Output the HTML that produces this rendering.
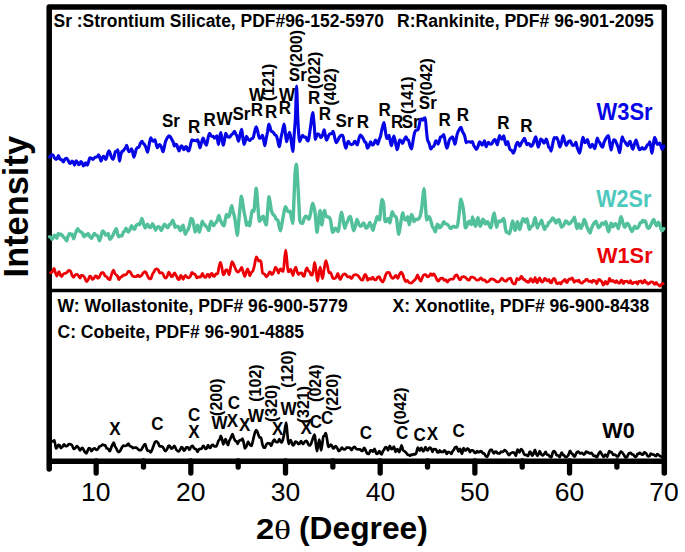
<!DOCTYPE html><html><head><meta charset="utf-8"><style>html,body{margin:0;padding:0;background:#fff;overflow:hidden;width:685px;height:552px;}svg{display:block;}</style></head><body>
<svg width="685" height="552" viewBox="0 0 685 552">
<rect width="685" height="552" fill="#fff"/>
<g stroke="#000" fill="none">
<path d="M49.2,469 L49.2,7.1 L664.3,7.1 L664.3,473" stroke-width="5.5" stroke-linejoin="round" stroke-linecap="round"/>
<line x1="49.2" y1="461.3" x2="664.3" y2="461.3" stroke-width="5.4"/>
<line x1="49.2" y1="290.5" x2="664.3" y2="290.5" stroke-width="3.6"/>
<line x1="96.15" y1="461" x2="96.15" y2="473" stroke-width="5.3" stroke-linecap="round"/>
<line x1="190.83" y1="461" x2="190.83" y2="473" stroke-width="5.3" stroke-linecap="round"/>
<line x1="285.51" y1="461" x2="285.51" y2="473" stroke-width="5.3" stroke-linecap="round"/>
<line x1="380.19" y1="461" x2="380.19" y2="473" stroke-width="5.3" stroke-linecap="round"/>
<line x1="474.87" y1="461" x2="474.87" y2="473" stroke-width="5.3" stroke-linecap="round"/>
<line x1="569.55" y1="461" x2="569.55" y2="473" stroke-width="5.3" stroke-linecap="round"/>
<line x1="143.49" y1="461" x2="143.49" y2="467" stroke-width="5.3" stroke-linecap="round"/>
<line x1="238.17" y1="461" x2="238.17" y2="467" stroke-width="5.3" stroke-linecap="round"/>
<line x1="332.85" y1="461" x2="332.85" y2="467" stroke-width="5.3" stroke-linecap="round"/>
<line x1="427.53" y1="461" x2="427.53" y2="467" stroke-width="5.3" stroke-linecap="round"/>
<line x1="522.21" y1="461" x2="522.21" y2="467" stroke-width="5.3" stroke-linecap="round"/>
<line x1="616.89" y1="461" x2="616.89" y2="467" stroke-width="5.3" stroke-linecap="round"/>
</g>
<g fill="none" stroke-linejoin="round" stroke-linecap="round">
<path d="M49.6,157.1C50.1,156.5 50.7,155.4 51.2,155.2C51.7,154.9 52.3,154.7 52.8,154.7C53.3,154.7 53.9,157.2 54.4,157.9C54.9,158.6 55.5,159.4 56.0,159.4C56.4,159.4 56.8,159.0 57.2,158.5C57.6,158.0 58.0,155.5 58.4,155.5C58.8,155.5 59.2,158.0 59.6,158.5C60.0,159.0 60.4,159.3 60.8,159.5C61.2,159.7 61.6,159.7 62.0,160.0C62.5,160.2 62.9,162.0 63.3,162.0C63.8,162.0 64.4,159.7 64.9,159.2C65.4,158.8 66.0,158.4 66.5,158.4C67.0,158.4 67.6,159.5 68.1,160.3C68.6,161.1 69.2,163.5 69.7,163.5C70.1,163.5 70.5,163.1 70.9,162.8C71.3,162.5 71.7,161.1 72.1,161.1C72.5,161.1 72.9,161.6 73.3,162.1C73.7,162.5 74.1,165.1 74.5,165.1C75.0,165.1 75.6,160.8 76.1,160.8C76.5,160.8 76.9,161.4 77.3,162.0C77.7,162.5 78.1,164.7 78.5,164.7C78.9,164.7 79.3,164.3 79.7,163.9C80.1,163.6 80.5,161.5 80.9,161.5C81.3,161.5 81.7,162.1 82.1,162.7C82.5,163.2 82.9,165.9 83.3,165.9C83.7,165.9 84.1,165.6 84.5,165.2C84.9,164.8 85.3,162.7 85.7,162.7C86.2,162.7 86.8,165.1 87.3,165.1C87.7,165.1 88.1,163.1 88.5,162.0C89.0,160.8 89.4,157.9 89.8,157.9C90.3,157.9 90.9,158.0 91.4,158.2C91.9,158.3 92.5,159.5 93.0,159.5C93.5,159.5 94.1,157.8 94.6,157.6C95.1,157.3 95.7,157.3 96.2,157.1C96.6,157.0 97.0,156.9 97.4,156.6C97.8,156.3 98.2,154.7 98.6,154.7C99.0,154.7 99.4,156.3 99.8,157.4C100.2,158.4 100.6,161.1 101.0,161.1C101.4,161.1 101.8,158.7 102.2,158.0C102.6,157.3 103.0,156.3 103.4,156.3C103.8,156.3 104.2,156.9 104.6,157.4C105.0,157.9 105.4,159.5 105.8,159.5C106.3,159.5 106.9,155.9 107.4,154.5C107.9,153.0 108.5,150.7 109.0,150.7C109.4,150.7 109.8,152.3 110.2,153.4C110.6,154.4 111.0,156.3 111.4,157.1C111.9,158.2 112.5,159.5 113.0,159.5C113.4,159.5 113.8,157.6 114.2,156.3C114.6,155.0 115.0,151.6 115.4,151.5C115.8,151.4 116.2,151.4 116.7,151.3C117.1,151.1 117.5,149.9 117.9,149.9C118.4,149.9 119.0,161.1 119.5,161.1C119.9,161.1 120.3,156.8 120.7,155.3C121.1,153.8 121.5,151.8 121.9,151.5C122.3,151.2 122.7,151.2 123.1,150.9C123.5,150.6 123.9,149.6 124.3,149.1C124.7,148.6 125.1,148.5 125.5,147.9C125.9,147.3 126.3,145.2 126.7,145.2C127.1,145.2 127.5,148.6 127.9,149.6C128.3,150.6 128.7,151.8 129.1,151.8C129.5,151.8 129.9,151.4 130.3,150.9C130.7,150.5 131.1,148.8 131.5,148.8C131.9,148.8 132.3,151.0 132.7,152.4C133.1,153.8 133.5,157.1 133.9,157.1C134.3,157.1 134.7,154.9 135.1,153.6C135.5,152.2 135.9,149.9 136.3,149.1C136.7,148.3 137.1,147.5 137.5,147.5C137.9,147.5 138.3,147.5 138.7,147.5C139.2,147.5 139.8,144.5 140.3,143.5C140.9,142.5 141.4,141.2 142.0,141.2C142.4,141.2 142.8,143.1 143.2,143.5C143.6,143.9 144.0,143.9 144.4,144.3C144.9,144.8 145.5,146.4 146.0,147.8C146.5,149.1 147.1,152.3 147.6,152.3C148.1,152.3 148.7,146.6 149.2,144.3C149.7,141.9 150.3,137.9 150.8,137.9C151.2,137.9 151.6,139.7 152.0,140.2C152.4,140.6 152.8,141.1 153.2,141.1C153.8,141.1 154.4,139.7 155.0,139.7C155.4,139.7 155.8,143.0 156.2,144.3C156.6,145.6 157.0,147.7 157.4,147.7C157.8,147.7 158.2,146.1 158.6,145.6C159.0,145.2 159.4,144.5 159.8,144.5C160.3,144.5 160.9,146.1 161.4,147.2C161.9,148.4 162.5,151.8 163.0,151.8C163.4,151.8 163.8,149.1 164.2,147.5C164.6,145.9 165.0,143.3 165.4,142.1C166.0,140.2 166.6,139.0 167.2,138.0C167.9,137.1 168.5,135.8 169.1,135.8C169.6,135.8 170.0,136.4 170.5,137.0C171.0,137.6 171.4,138.8 171.9,139.7C172.3,140.4 172.7,140.9 173.1,141.8C173.5,142.8 173.9,146.1 174.3,146.1C174.7,146.1 175.1,144.3 175.5,144.3C175.9,144.3 176.3,144.4 176.7,144.5C177.1,144.6 177.5,147.5 177.9,148.5C178.3,149.6 178.7,151.0 179.1,151.0C179.5,151.0 179.9,148.1 180.3,147.3C180.7,146.6 181.1,145.8 181.5,145.8C181.9,145.8 182.3,146.6 182.7,147.2C183.1,147.8 183.5,149.7 183.9,149.7C184.3,149.7 184.7,147.8 185.1,147.4C185.5,147.0 185.9,146.5 186.3,146.5C186.7,146.5 187.1,149.1 187.5,149.8C187.9,150.4 188.3,151.0 188.7,151.0C189.2,151.0 189.8,147.7 190.3,145.9C190.8,144.0 191.4,139.7 191.9,139.7C192.4,139.7 193.0,140.6 193.5,140.6C194.0,140.6 194.6,140.5 195.1,140.5C195.5,140.5 195.9,141.0 196.3,141.0C196.8,141.0 197.2,139.7 197.6,139.7C198.0,139.7 198.4,141.7 198.8,143.0C199.2,144.3 199.6,147.8 200.0,147.8C200.5,147.8 201.1,143.8 201.6,142.2C202.1,140.6 202.7,138.1 203.2,138.1C203.7,138.1 204.3,141.4 204.8,142.6C205.3,143.7 205.9,145.3 206.4,145.3C206.9,145.3 207.5,140.2 208.0,138.3C208.5,136.3 209.1,133.3 209.6,133.3C210.0,133.3 210.4,134.9 210.8,135.4C211.2,135.9 211.6,136.5 212.0,136.5C212.4,136.5 212.8,136.2 213.2,136.2C213.6,136.2 214.0,138.1 214.4,138.1C214.8,138.1 215.2,137.7 215.6,137.4C216.0,137.0 216.4,135.7 216.8,135.7C217.3,135.7 217.9,144.5 218.4,144.5C218.8,144.5 219.2,139.4 219.6,137.5C220.0,135.5 220.4,132.5 220.8,132.5C221.2,132.5 221.6,137.8 222.1,139.9C222.5,142.0 222.9,145.3 223.3,145.3C223.7,145.3 224.1,142.1 224.5,140.2C224.9,138.2 225.3,133.3 225.7,133.3C226.2,133.3 226.8,135.5 227.3,136.1C227.8,136.6 228.4,137.3 228.9,137.3C229.3,137.3 229.7,137.0 230.1,136.7C230.5,136.5 230.9,135.3 231.3,134.9C231.8,134.3 232.4,134.2 232.9,133.7C233.4,133.1 234.0,131.3 234.5,131.3C234.9,131.3 235.4,133.1 235.8,134.0C236.3,134.9 236.7,135.8 237.2,136.9C237.6,138.1 238.1,141.3 238.5,141.3C239.0,141.3 239.6,136.7 240.1,134.7C240.6,132.7 241.2,129.2 241.7,129.2C242.1,129.2 242.5,135.2 242.9,137.8C243.3,140.3 243.7,144.5 244.1,144.5C244.5,144.5 244.9,142.3 245.3,141.0C245.7,139.6 246.1,136.2 246.5,136.2C247.0,136.2 247.6,138.7 248.1,139.3C248.6,139.9 249.2,140.5 249.7,140.5C250.2,140.5 250.8,139.1 251.3,138.8C251.9,138.4 252.4,138.5 253.0,138.1C253.5,137.7 254.1,133.6 254.6,131.8C255.1,129.9 255.7,126.8 256.2,126.8C256.7,126.8 257.3,130.2 257.8,132.0C258.3,133.9 258.9,138.1 259.4,138.1C259.9,138.1 260.4,137.9 260.9,137.7C261.4,137.5 261.9,135.4 262.4,135.4C262.8,135.4 263.2,137.9 263.6,139.6C264.0,141.3 264.4,145.8 264.8,145.8C265.2,145.8 265.7,141.4 266.1,139.1C266.6,136.8 267.0,134.6 267.5,132.1C267.9,129.6 268.4,124.1 268.8,124.1C269.2,124.1 269.6,125.8 270.0,126.9C270.4,128.1 270.8,131.3 271.2,131.4C271.6,131.6 272.0,131.5 272.4,131.6C272.9,131.8 273.3,132.5 273.7,133.0C274.1,133.5 274.5,134.5 274.9,134.8C275.3,135.1 275.7,135.1 276.1,135.4C276.6,135.9 277.2,138.4 277.7,140.2C278.2,142.1 278.8,146.8 279.3,146.8C279.8,146.8 280.4,140.9 280.9,138.3C281.4,135.6 282.0,133.3 282.5,131.0C283.0,128.6 283.6,124.1 284.1,124.1C284.5,124.1 284.9,129.4 285.3,132.3C285.7,135.2 286.1,141.8 286.5,141.8C287.0,141.8 287.6,137.5 288.1,136.0C288.6,134.4 289.2,132.2 289.7,132.2C290.2,132.2 290.7,138.0 291.2,141.2C291.8,144.5 292.3,151.5 292.8,151.5C293.2,151.5 293.7,141.3 294.1,135.7C294.5,130.1 295.0,125.8 295.4,118.0C295.8,110.8 296.2,86.0 296.6,86.0C297.0,86.0 297.4,110.8 297.8,118.0C298.4,128.9 299.0,141.8 299.6,141.8C300.1,141.8 300.6,139.0 301.1,137.9C301.6,136.9 302.1,135.4 302.6,135.4C303.1,135.4 303.7,137.1 304.2,137.1C304.7,137.1 305.3,137.0 305.8,137.0C306.2,137.0 306.6,139.5 307.0,140.0C307.4,140.5 307.8,141.0 308.2,141.0C308.6,141.0 309.1,136.7 309.5,134.0C309.9,131.4 310.4,127.9 310.8,125.0C311.4,120.7 312.1,112.5 312.7,112.5C313.2,112.5 313.7,120.1 314.2,125.0C314.6,129.0 315.0,139.4 315.4,139.4C315.8,139.4 316.2,136.7 316.6,135.8C317.0,134.9 317.4,133.8 317.8,133.8C318.3,133.8 318.9,134.4 319.4,135.0C319.9,135.6 320.5,137.8 321.0,137.8C321.5,137.8 322.1,136.1 322.6,134.9C323.1,133.6 323.7,129.8 324.2,129.8C324.6,129.8 325.0,133.9 325.4,135.6C325.8,137.4 326.2,140.2 326.6,140.2C327.2,140.2 327.7,137.6 328.2,136.5C328.8,135.5 329.3,133.9 329.9,133.8C330.4,133.7 331.0,133.8 331.5,133.7C332.0,133.6 332.6,131.4 333.1,131.4C333.6,131.4 334.2,135.6 334.7,137.5C335.2,139.4 335.8,142.6 336.3,142.6C336.8,142.6 337.4,141.2 337.9,140.3C338.4,139.4 339.0,137.7 339.5,137.0C340.0,136.3 340.6,135.3 341.1,135.3C341.6,135.3 342.2,135.4 342.7,135.4C343.2,135.4 343.8,140.5 344.3,142.6C344.8,144.8 345.4,148.3 345.9,148.3C346.3,148.3 346.7,145.1 347.1,144.0C347.5,142.9 347.9,141.4 348.3,141.4C348.8,141.4 349.4,143.4 349.9,143.8C350.4,144.1 351.0,144.6 351.5,144.6C352.0,144.6 352.6,144.3 353.1,144.0C353.6,143.7 354.2,141.4 354.7,141.4C355.1,141.4 355.5,142.1 355.9,142.6C356.4,143.1 356.8,145.0 357.2,145.0C357.7,145.0 358.3,140.7 358.8,139.1C359.3,137.5 359.9,135.1 360.4,135.1C360.9,135.1 361.5,136.0 362.0,136.6C362.5,137.3 363.1,138.4 363.6,139.4C364.0,140.2 364.4,141.6 364.8,141.9C365.2,142.3 365.6,142.2 366.0,142.6C366.5,143.1 366.9,148.2 367.4,148.2C367.9,148.2 368.5,147.0 369.0,146.0C369.5,145.0 370.1,141.8 370.6,141.8C371.0,141.8 371.4,143.7 371.8,144.1C372.2,144.5 372.6,145.0 373.0,145.0C373.4,145.0 373.8,143.9 374.2,143.1C374.6,142.3 375.0,140.1 375.4,140.1C375.8,140.1 376.2,141.0 376.6,141.7C377.0,142.4 377.4,144.2 377.8,144.2C378.2,144.2 378.6,141.0 379.1,139.8C379.5,138.6 379.9,138.1 380.3,136.9C380.9,135.1 381.5,131.1 382.1,128.7C382.8,126.4 383.4,122.5 384.0,122.5C384.4,122.5 384.9,128.4 385.4,131.1C385.8,133.7 386.2,138.5 386.7,138.5C387.1,138.5 387.5,138.0 387.9,137.6C388.3,137.2 388.7,135.3 389.1,135.3C389.5,135.3 389.9,139.9 390.3,141.6C390.7,143.3 391.1,145.8 391.5,145.8C391.9,145.8 392.3,142.0 392.7,140.4C393.1,138.8 393.5,136.1 393.9,136.1C394.4,136.1 395.0,140.0 395.5,142.3C396.0,144.6 396.6,149.8 397.1,149.8C397.5,149.8 397.9,147.4 398.3,145.9C398.7,144.3 399.1,140.1 399.5,140.1C400.0,140.1 400.6,140.5 401.1,140.9C401.6,141.4 402.2,143.4 402.7,143.4C403.2,143.4 403.8,140.4 404.4,139.4C404.9,138.4 405.4,136.9 406.0,136.9C406.4,136.9 406.8,139.1 407.2,139.5C407.6,139.8 408.0,139.7 408.4,140.1C408.9,140.6 409.5,144.3 410.0,145.7C410.5,147.1 411.1,149.0 411.6,149.0C412.1,149.0 412.7,142.5 413.2,139.7C413.7,136.9 414.3,133.2 414.8,132.1C415.3,131.0 415.9,130.2 416.4,130.0C416.9,129.8 417.5,129.9 418.0,129.7C418.4,129.5 418.8,127.0 419.2,125.4C419.6,123.7 420.0,119.4 420.4,119.3C420.8,119.2 421.2,119.1 421.6,119.1C422.0,119.1 422.4,120.1 422.8,120.1C423.2,120.1 423.6,118.5 424.0,118.2C424.4,118.0 424.8,117.7 425.2,117.7C425.6,117.7 426.0,126.3 426.4,130.0C426.8,133.7 427.2,138.7 427.6,140.1C428.1,142.0 428.7,142.1 429.2,143.5C429.7,144.9 430.3,149.0 430.8,149.0C431.2,149.0 431.6,147.5 432.1,147.2C432.5,146.9 432.9,146.9 433.3,146.6C433.7,146.3 434.1,145.5 434.5,144.6C434.9,143.8 435.3,140.9 435.7,140.9C436.1,140.9 436.5,141.1 436.9,141.5C437.3,141.8 437.7,144.2 438.1,144.2C438.5,144.2 438.9,142.5 439.3,141.3C439.7,140.1 440.1,137.1 440.5,136.9C441.0,136.7 441.6,136.7 442.1,136.5C442.6,136.3 443.2,134.5 443.7,134.5C444.2,134.5 444.8,140.0 445.3,142.3C445.8,144.5 446.4,148.2 446.9,148.2C447.3,148.2 447.7,146.3 448.1,145.0C448.5,143.7 448.9,140.9 449.3,140.1C449.8,139.0 450.4,138.4 450.9,138.0C451.4,137.5 452.0,136.9 452.5,136.9C452.9,136.9 453.3,138.9 453.7,140.1C454.1,141.3 454.5,144.2 454.9,144.2C455.3,144.2 455.7,141.2 456.1,139.4C456.5,137.7 456.9,134.9 457.3,133.7C457.9,131.8 458.5,130.8 459.1,129.8C459.8,128.7 460.4,127.2 461.0,127.2C461.5,127.2 461.9,130.4 462.4,131.4C462.9,132.4 463.3,132.7 463.8,133.7C464.2,134.5 464.6,135.7 465.0,137.1C465.4,138.4 465.8,142.6 466.2,142.6C466.7,142.6 467.3,141.7 467.8,141.7C468.3,141.7 468.9,141.7 469.4,141.8C469.9,141.9 470.4,142.2 470.9,142.2C471.4,142.2 471.9,141.5 472.4,141.5C472.8,141.5 473.3,144.3 473.7,145.2C474.2,146.1 474.6,146.7 475.1,147.4C475.5,148.1 476.0,149.5 476.4,149.5C476.9,149.5 477.5,147.8 478.0,146.5C478.5,145.3 479.1,141.9 479.6,141.9C480.0,141.9 480.4,142.4 480.8,142.9C481.2,143.3 481.6,145.1 482.0,145.1C482.4,145.1 482.8,144.2 483.2,143.6C483.7,142.9 484.1,140.7 484.5,140.7C485.0,140.7 485.6,146.7 486.1,146.7C486.5,146.7 486.9,144.6 487.3,143.9C487.7,143.2 488.1,142.3 488.5,142.3C489.0,142.3 489.6,144.1 490.1,144.1C490.6,144.1 491.2,144.0 491.7,143.9C492.2,143.8 492.8,141.5 493.3,140.9C493.8,140.2 494.4,139.6 494.9,139.6C495.3,139.6 495.7,140.8 496.1,141.7C496.5,142.5 496.9,144.8 497.3,144.8C497.7,144.8 498.1,141.1 498.5,139.6C498.9,138.1 499.3,135.5 499.7,135.5C500.1,135.5 500.5,137.9 500.9,138.3C501.3,138.7 501.7,139.1 502.1,139.1C502.6,139.1 503.2,135.9 503.7,135.9C504.1,135.9 504.5,139.6 504.9,141.1C505.3,142.5 505.7,144.7 506.1,144.7C506.6,144.7 507.2,141.5 507.7,141.5C508.1,141.5 508.5,144.8 508.9,146.1C509.3,147.4 509.7,149.1 510.1,149.5C510.7,150.1 511.2,150.1 511.8,150.6C512.3,151.1 512.9,153.1 513.4,153.1C513.8,153.1 514.3,151.5 514.7,150.3C515.2,149.1 515.6,146.0 516.1,144.8C516.5,143.7 517.0,142.2 517.4,142.2C517.8,142.2 518.2,142.9 518.6,143.4C519.0,144.0 519.4,146.3 519.8,146.3C520.3,146.3 520.9,143.9 521.4,142.9C521.9,141.9 522.5,141.0 523.0,140.3C523.5,139.5 524.1,138.2 524.6,138.2C525.0,138.2 525.4,140.9 525.8,142.0C526.2,143.0 526.6,144.7 527.0,144.7C527.4,144.7 527.8,143.5 528.2,143.5C528.6,143.5 529.0,143.7 529.4,143.9C529.8,144.1 530.2,145.8 530.6,146.0C531.0,146.2 531.4,146.3 531.8,146.3C532.2,146.3 532.7,144.7 533.1,143.6C533.6,142.5 534.0,140.4 534.5,139.3C534.9,138.2 535.4,136.7 535.8,136.7C536.2,136.7 536.6,141.0 537.0,142.7C537.5,144.4 537.9,147.1 538.3,147.1C538.7,147.1 539.1,145.0 539.5,143.7C539.9,142.3 540.3,139.1 540.7,139.1C541.2,139.1 541.8,139.6 542.3,140.2C542.8,140.7 543.4,143.1 543.9,143.1C544.3,143.1 544.7,142.2 545.1,141.6C545.5,140.9 545.9,139.1 546.3,139.1C546.7,139.1 547.1,141.2 547.5,142.5C547.9,143.8 548.3,146.5 548.7,147.1C549.1,147.7 549.5,147.6 549.9,148.2C550.3,148.7 550.7,151.1 551.1,151.1C551.6,151.1 552.2,146.1 552.7,143.8C553.2,141.6 553.8,137.5 554.3,137.5C554.7,137.5 555.1,138.3 555.5,138.3C555.9,138.3 556.3,137.5 556.7,137.5C557.2,137.5 557.8,139.8 558.3,141.3C558.8,142.9 559.4,147.1 559.9,147.1C560.4,147.1 561.0,144.3 561.5,142.5C562.0,140.6 562.6,135.9 563.1,135.9C563.6,135.9 564.2,140.0 564.8,141.6C565.3,143.2 565.9,145.5 566.4,145.5C566.8,145.5 567.3,143.7 567.7,143.0C568.2,142.3 568.6,141.5 569.1,141.2C569.5,140.9 570.0,140.7 570.4,140.7C570.8,140.7 571.2,142.9 571.6,143.7C572.0,144.4 572.4,145.5 572.8,145.5C573.3,145.5 573.9,145.3 574.4,145.0C574.9,144.6 575.5,142.2 576.0,142.2C576.3,142.2 576.7,145.7 577.0,146.9C577.4,148.4 577.9,149.5 578.3,150.5C578.7,151.6 579.2,153.2 579.6,153.2C580.1,153.2 580.7,148.5 581.2,145.9C581.8,143.2 582.4,137.4 582.9,137.4C583.6,137.4 584.2,142.6 584.9,142.6C585.3,142.6 585.8,142.3 586.2,141.9C586.6,141.5 587.1,139.5 587.5,139.5C587.9,139.5 588.4,143.1 588.8,144.4C589.2,145.6 589.7,147.5 590.1,147.5C590.8,147.5 591.4,144.4 592.1,144.4C592.5,144.4 593.0,145.3 593.4,146.0C593.8,146.6 594.3,148.6 594.7,148.6C595.1,148.6 595.6,145.6 596.0,143.9C596.4,142.1 596.9,138.0 597.3,138.0C597.8,138.0 598.2,140.7 598.6,141.4C599.1,142.1 599.5,142.3 600.0,143.0C600.4,143.7 600.9,145.6 601.3,146.1C601.7,146.6 602.2,147.2 602.6,147.2C603.0,147.2 603.5,143.9 603.9,142.7C604.3,141.5 604.8,140.5 605.2,139.7C605.8,138.6 606.3,137.6 606.9,137.0C607.4,136.3 608.0,135.5 608.5,135.5C608.9,135.5 609.4,141.2 609.8,143.6C610.2,145.9 610.7,149.9 611.1,149.9C611.6,149.9 612.0,145.5 612.5,143.8C612.9,142.2 613.4,139.8 613.8,139.8C614.2,139.8 614.7,140.0 615.1,140.3C615.5,140.6 616.0,142.0 616.4,143.0C616.9,144.2 617.5,145.3 618.0,146.9C618.6,148.4 619.1,152.6 619.7,152.6C620.1,152.6 620.6,146.2 621.0,143.6C621.4,141.0 621.9,136.7 622.3,136.7C622.7,136.7 623.2,139.5 623.6,140.2C624.0,140.9 624.5,141.1 624.9,141.7C625.4,142.3 625.8,143.6 626.2,144.1C626.7,144.7 627.1,145.6 627.6,145.6C628.0,145.6 628.5,143.1 628.9,142.5C629.3,141.9 629.8,141.2 630.2,141.2C630.6,141.2 631.1,145.0 631.5,146.2C631.9,147.5 632.4,149.3 632.8,149.3C633.4,149.3 633.9,145.3 634.5,143.8C635.0,142.3 635.6,140.0 636.1,140.0C636.6,140.0 637.2,143.8 637.8,145.3C638.3,146.9 638.9,149.6 639.4,149.6C639.8,149.6 640.3,149.4 640.7,149.2C641.1,149.0 641.6,147.6 642.0,147.6C642.4,147.6 642.9,148.8 643.3,148.9C643.7,148.9 644.2,148.9 644.6,148.9C645.1,148.9 645.5,148.1 646.0,147.5C646.4,146.9 646.9,145.4 647.3,145.0C647.7,144.6 648.2,144.6 648.6,144.2C649.0,143.8 649.5,141.8 649.9,141.8C650.6,141.8 651.2,153.2 651.9,153.2C652.3,153.2 652.8,148.8 653.2,146.2C653.6,143.6 654.1,137.4 654.5,137.4C654.9,137.4 655.4,138.7 655.8,139.7C656.2,140.8 656.7,144.3 657.1,144.3C657.5,144.3 658.0,144.3 658.4,144.2C658.8,144.1 659.3,143.0 659.7,143.0C660.1,143.0 660.5,144.7 660.9,145.7C661.2,146.8 661.6,149.3 662.0,149.3C662.6,149.3 663.2,147.1 663.8,146.0" stroke="#0505e6" stroke-width="3.1"/>
<path d="M49.6,236.8C50.0,237.0 50.4,237.1 50.8,237.4C51.2,237.7 51.6,239.2 52.0,239.2C52.4,239.2 52.8,238.3 53.2,237.7C53.6,237.1 54.0,235.1 54.4,235.1C54.8,235.1 55.2,235.4 55.6,235.8C56.0,236.2 56.4,238.4 56.8,238.4C57.3,238.4 57.9,233.5 58.4,233.5C58.8,233.5 59.2,234.9 59.6,234.9C60.0,234.9 60.4,234.3 60.8,234.3C61.2,234.3 61.6,234.6 62.0,235.0C62.5,235.3 62.9,236.3 63.3,236.8C63.8,237.4 64.4,237.6 64.9,238.2C65.4,238.8 66.0,240.9 66.5,240.9C67.0,240.9 67.6,237.3 68.1,236.1C68.6,235.0 69.2,233.5 69.7,233.5C70.1,233.5 70.5,234.8 70.9,234.8C71.3,234.8 71.7,234.3 72.1,234.3C72.6,234.3 73.2,238.8 73.7,238.8C74.1,238.8 74.6,235.9 75.0,234.6C75.5,233.4 75.9,232.2 76.4,231.3C76.8,230.3 77.3,228.7 77.7,228.7C78.2,228.7 78.8,230.6 79.3,231.0C79.8,231.4 80.4,231.5 80.9,231.9C81.4,232.3 82.0,232.7 82.5,233.3C83.0,234.0 83.6,236.8 84.1,236.8C84.5,236.8 85.0,234.8 85.4,234.8C85.9,234.8 86.3,235.2 86.8,235.2C87.2,235.2 87.7,233.5 88.1,233.5C88.6,233.5 89.2,235.9 89.8,236.6C90.3,237.4 90.9,238.4 91.4,238.4C91.9,238.4 92.5,236.1 93.0,235.4C93.5,234.6 94.1,233.5 94.6,233.5C95.0,233.5 95.4,235.2 95.8,235.2C96.2,235.2 96.6,235.1 97.0,235.1C97.4,235.1 97.8,236.3 98.2,237.2C98.6,238.0 99.0,240.7 99.4,240.7C99.9,240.7 100.5,238.2 101.0,236.6C101.5,235.1 102.1,231.0 102.6,231.0C103.1,231.0 103.7,231.7 104.2,232.3C104.7,232.9 105.3,235.1 105.8,235.1C106.2,235.1 106.6,235.1 107.0,235.1C107.4,235.1 107.8,233.5 108.2,233.5C108.7,233.5 109.3,239.2 109.8,239.2C110.3,239.2 110.9,238.5 111.4,237.9C111.9,237.3 112.5,236.2 113.0,235.1C113.5,234.0 114.1,232.3 114.7,231.3C115.2,230.3 115.8,228.8 116.3,228.8C116.7,228.8 117.1,232.2 117.5,233.5C117.9,234.8 118.3,236.8 118.7,236.8C119.2,236.8 119.8,235.8 120.3,235.8C120.8,235.8 121.4,236.0 121.9,236.0C122.4,236.0 123.0,232.5 123.5,231.9C123.9,231.4 124.3,231.4 124.7,231.0C125.1,230.5 125.5,228.2 125.9,228.2C126.3,228.2 126.7,230.0 127.1,230.6C127.5,231.2 127.9,232.0 128.3,232.0C128.8,232.0 129.4,230.6 129.9,229.6C130.4,228.6 131.0,225.8 131.5,225.8C132.0,225.8 132.6,228.1 133.1,228.5C133.6,228.8 134.2,229.2 134.7,229.2C135.1,229.2 135.5,226.5 135.9,225.9C136.3,225.3 136.7,225.0 137.1,224.7C137.5,224.4 137.9,223.9 138.3,223.9C138.7,223.9 139.1,224.7 139.5,224.7C139.9,224.7 140.3,223.0 140.7,222.0C141.1,221.0 141.5,218.4 141.9,218.4C142.5,218.4 143.0,222.7 143.6,224.2C144.1,225.8 144.7,228.0 145.2,228.0C145.6,228.0 146.0,226.2 146.4,225.6C146.8,225.0 147.2,224.2 147.6,224.2C148.0,224.2 148.4,226.1 148.8,226.6C149.2,227.0 149.6,227.6 150.0,227.6C150.4,227.6 150.8,227.2 151.2,226.7C151.6,226.3 152.0,223.8 152.4,223.8C152.9,223.8 153.5,225.3 154.0,226.3C154.5,227.3 155.1,230.2 155.6,230.2C156.0,230.2 156.5,228.1 156.9,227.7C157.3,227.2 157.8,226.7 158.2,226.7C158.7,226.7 159.3,227.2 159.8,227.7C160.3,228.2 160.9,230.5 161.4,230.5C161.9,230.5 162.5,227.9 163.0,226.8C163.5,225.8 164.1,224.1 164.6,224.1C165.1,224.1 165.7,225.9 166.2,226.5C166.7,227.1 167.3,227.9 167.8,227.9C168.2,227.9 168.6,225.4 169.1,225.0C169.5,224.6 169.9,224.6 170.3,224.2C170.7,223.9 171.1,223.2 171.5,222.6C171.9,221.9 172.3,220.1 172.7,220.1C173.1,220.1 173.5,221.8 173.9,223.0C174.3,224.1 174.7,227.4 175.1,227.4C175.6,227.4 176.2,226.2 176.7,226.2C177.2,226.2 177.8,226.3 178.3,226.6C178.7,226.8 179.1,228.8 179.5,229.4C179.9,230.0 180.3,230.7 180.7,230.7C181.1,230.7 181.5,227.9 181.9,227.0C182.3,226.2 182.7,225.1 183.1,225.1C183.5,225.1 183.9,229.3 184.3,230.8C184.7,232.2 185.1,234.3 185.5,234.3C185.9,234.3 186.3,231.7 186.7,231.1C187.1,230.5 187.5,230.4 187.9,229.8C188.4,229.0 189.0,227.0 189.5,225.2C190.0,223.4 190.6,218.5 191.1,218.5C191.6,218.5 192.2,219.2 192.7,220.1C193.1,220.8 193.5,223.6 193.9,225.5C194.3,227.5 194.7,232.1 195.1,232.1C195.5,232.1 195.9,230.6 196.3,229.5C196.8,228.4 197.2,225.1 197.6,225.1C198.1,225.1 198.7,232.1 199.2,232.1C199.7,232.1 200.3,229.0 200.8,227.2C201.3,225.4 201.9,221.3 202.4,221.3C202.8,221.3 203.2,223.6 203.6,224.1C204.0,224.5 204.4,224.6 204.8,225.0C205.2,225.4 205.7,225.9 206.1,226.4C206.6,226.9 207.0,227.3 207.5,228.0C207.9,228.7 208.4,230.5 208.8,230.5C209.2,230.5 209.6,226.2 210.0,224.8C210.4,223.3 210.8,221.2 211.2,221.2C211.6,221.2 212.0,223.6 212.4,224.3C212.8,225.0 213.2,225.8 213.6,225.8C214.0,225.8 214.4,224.1 214.8,223.6C215.2,223.2 215.6,223.1 216.0,222.6C216.5,222.0 217.0,221.1 217.4,219.9C217.9,218.8 218.4,215.4 218.9,215.4C219.3,215.4 219.8,218.7 220.2,219.8C220.7,221.0 221.2,221.7 221.6,222.6C222.0,223.4 222.4,224.4 222.8,224.9C223.3,225.3 223.7,225.8 224.1,225.8C224.5,225.8 224.9,221.6 225.3,219.7C225.7,217.8 226.1,214.5 226.5,214.5C226.9,214.5 227.3,216.6 227.7,216.7C228.1,216.8 228.5,216.9 228.9,216.9C229.4,216.9 229.9,212.6 230.4,210.8C230.8,208.9 231.3,205.8 231.8,205.8C232.2,205.8 232.7,210.4 233.2,212.2C233.6,214.0 234.1,214.9 234.5,216.9C234.9,218.9 235.4,222.1 235.8,225.2C236.3,228.2 236.8,235.3 237.2,235.3C237.7,235.3 238.1,227.5 238.6,223.0C239.1,218.5 239.5,212.6 240.0,208.2C240.5,203.8 240.9,196.2 241.4,196.2C241.8,196.2 242.3,200.9 242.8,203.5C243.2,206.2 243.7,209.7 244.1,212.1C244.5,214.3 244.9,215.6 245.3,217.7C245.7,219.9 246.1,225.5 246.5,225.5C247.0,225.5 247.6,222.1 248.1,222.1C248.6,222.1 249.2,225.9 249.7,225.9C250.1,225.9 250.5,220.2 250.9,217.6C251.4,215.1 251.8,210.5 252.2,210.5C252.7,210.5 253.3,211.3 253.8,211.3C254.2,211.3 254.6,204.0 255.0,200.2C255.4,196.3 255.8,188.1 256.2,188.1C256.7,188.1 257.3,199.8 257.8,205.3C258.3,210.9 258.9,221.4 259.4,221.4C259.8,221.4 260.2,220.6 260.6,220.0C261.0,219.5 261.4,218.3 261.8,217.7C262.3,217.0 262.8,216.1 263.3,216.1C263.8,216.1 264.3,220.0 264.8,221.5C265.2,222.9 265.7,225.0 266.2,225.0C266.7,225.0 267.1,216.5 267.6,211.7C268.1,207.0 268.5,196.6 269.0,196.6C269.4,196.6 269.8,200.6 270.2,202.9C270.6,205.2 271.0,208.9 271.4,210.4C271.8,212.0 272.2,213.2 272.6,213.8C273.1,214.5 273.5,214.8 273.9,215.3C274.3,215.8 274.7,216.0 275.1,216.6C275.5,217.2 275.9,219.1 276.3,219.4C276.8,219.9 277.4,219.7 277.9,220.2C278.3,220.6 278.7,224.3 279.1,226.0C279.6,227.7 280.0,230.7 280.4,230.7C280.9,230.7 281.5,226.1 282.0,223.3C282.6,220.5 283.1,216.5 283.7,213.8C284.2,211.0 284.8,206.7 285.3,206.7C285.7,206.7 286.1,207.7 286.5,208.4C286.9,209.1 287.3,210.9 287.7,211.2C288.1,211.5 288.5,211.8 288.9,211.8C289.3,211.8 289.7,211.2 290.1,211.2C290.6,211.2 291.0,215.8 291.5,217.9C291.9,219.9 292.4,223.4 292.8,223.4C293.2,223.4 293.6,207.0 294.0,198.5C294.4,189.9 294.8,176.0 295.2,172.0C295.6,168.0 296.0,164.2 296.4,164.2C296.8,164.2 297.2,173.8 297.6,180.0C298.0,185.9 298.4,194.7 298.8,201.5C299.1,208.3 299.5,219.9 299.9,221.0C300.4,222.3 300.8,222.9 301.3,223.1C301.8,223.3 302.2,223.4 302.7,223.4C303.2,223.4 303.7,219.8 304.1,218.6C304.6,217.5 305.1,216.1 305.6,216.1C306.2,216.1 306.7,216.5 307.2,217.0C307.8,217.4 308.3,219.4 308.9,219.4C309.5,219.4 310.1,215.0 310.8,212.3C311.4,209.6 312.0,203.1 312.6,203.1C313.3,203.1 313.9,206.3 314.6,209.6C315.0,211.6 315.4,216.5 315.8,220.3C316.2,224.0 316.6,232.3 317.0,232.3C317.5,232.3 318.0,224.1 318.5,220.5C319.0,216.9 319.5,210.5 320.0,210.5C320.6,210.5 321.3,225.0 321.9,225.0C322.3,225.0 322.7,219.7 323.1,217.3C323.6,214.9 324.0,210.5 324.4,210.5C324.8,210.5 325.2,213.3 325.6,214.4C326.0,215.4 326.4,216.9 326.8,216.9C327.4,216.9 327.9,216.9 328.5,217.0C329.0,217.0 329.6,217.6 330.1,218.6C330.5,219.3 330.9,222.7 331.3,225.0C331.7,227.2 332.1,232.4 332.5,232.4C332.9,232.4 333.3,231.9 333.8,231.4C334.2,230.9 334.6,228.3 335.0,228.3C335.5,228.3 336.1,228.7 336.6,229.2C337.1,229.6 337.7,231.6 338.2,231.6C338.8,231.6 339.3,224.6 339.9,221.3C340.4,218.1 340.9,212.1 341.5,212.1C342.0,212.1 342.6,216.6 343.1,219.2C343.6,221.9 344.2,228.3 344.7,228.3C345.2,228.3 345.8,225.1 346.4,223.7C346.9,222.4 347.4,221.4 348.0,220.2C348.4,219.3 348.8,217.7 349.2,217.3C349.7,216.8 350.1,216.4 350.5,216.4C351.0,216.4 351.6,222.0 352.1,224.3C352.6,226.7 353.2,230.7 353.7,230.7C354.2,230.7 354.8,227.9 355.4,226.1C355.9,224.3 356.4,219.4 357.0,219.4C357.5,219.4 358.1,222.6 358.6,223.7C359.1,224.8 359.7,226.3 360.2,226.3C360.8,226.3 361.3,225.8 361.9,225.3C362.4,224.8 362.9,223.0 363.5,223.0C363.9,223.0 364.3,223.8 364.7,224.6C365.1,225.3 365.5,228.3 365.9,228.3C366.1,228.3 366.4,228.1 366.6,228.0C367.1,227.7 367.7,227.0 368.2,226.1C368.7,225.3 369.3,222.5 369.8,222.5C370.3,222.5 370.9,224.5 371.4,225.8C371.9,227.1 372.5,230.3 373.0,230.3C373.4,230.3 373.9,226.6 374.3,225.2C374.8,223.9 375.2,223.2 375.7,221.9C376.1,220.5 376.6,216.7 377.0,216.7C377.4,216.7 377.8,217.0 378.2,217.3C378.7,217.7 379.1,220.1 379.5,220.1C379.9,220.1 380.3,212.7 380.7,209.2C381.1,205.8 381.5,199.4 381.9,199.4C382.4,199.4 383.0,201.0 383.5,203.1C384.0,205.2 384.6,221.6 385.1,221.6C385.6,221.6 386.2,221.3 386.7,221.0C387.2,220.7 387.8,218.4 388.3,218.4C388.8,218.4 389.4,222.9 389.9,222.9C390.3,222.9 390.7,218.7 391.1,216.8C391.5,215.0 391.9,211.8 392.3,211.8C392.7,211.8 393.1,214.0 393.5,214.6C393.9,215.2 394.3,215.6 394.7,216.0C395.2,216.6 395.8,216.6 396.3,217.6C396.7,218.3 397.1,223.7 397.5,226.5C397.9,229.3 398.3,234.3 398.7,234.3C399.1,234.3 399.6,230.3 400.0,227.8C400.5,225.3 400.9,221.4 401.4,218.9C401.8,216.5 402.3,212.8 402.7,212.8C403.1,212.8 403.5,216.4 403.9,217.5C404.3,218.6 404.7,220.0 405.1,220.0C405.5,220.0 405.9,219.8 406.4,219.4C406.8,219.1 407.2,216.7 407.6,216.7C408.1,216.7 408.7,224.7 409.2,224.7C409.6,224.7 410.0,220.7 410.4,219.0C410.8,217.3 411.2,214.4 411.6,214.4C412.0,214.4 412.4,215.9 412.8,217.1C413.2,218.2 413.6,221.6 414.0,221.6C414.4,221.6 414.8,219.9 415.2,219.7C415.6,219.4 416.0,219.2 416.4,219.2C416.9,219.2 417.5,219.5 418.0,219.5C418.5,219.5 419.1,218.6 419.6,217.6C420.2,216.4 420.9,213.3 421.5,209.5C421.9,207.1 422.3,202.0 422.7,198.6C423.1,195.1 423.5,188.7 423.9,188.7C424.4,188.7 424.9,199.8 425.4,205.0C425.8,210.2 426.3,220.0 426.8,220.0C427.2,220.0 427.6,218.0 428.0,217.6C428.4,217.2 428.8,216.8 429.2,216.8C429.7,216.8 430.3,219.2 430.8,220.7C431.3,222.3 431.9,225.3 432.4,226.4C432.9,227.4 433.3,227.6 433.8,228.5C434.3,229.3 434.7,231.9 435.2,231.9C435.6,231.9 435.9,230.0 436.2,228.7C436.6,227.5 436.9,224.1 437.3,224.1C437.7,224.1 438.1,224.8 438.5,225.3C438.9,225.8 439.3,227.9 439.7,227.9C440.1,227.9 440.6,227.3 441.0,226.8C441.5,226.3 441.9,225.2 442.4,224.4C442.8,223.5 443.3,221.6 443.7,221.6C444.2,221.6 444.8,223.5 445.3,223.7C445.8,223.9 446.4,223.8 446.9,224.0C447.4,224.2 448.0,224.9 448.5,225.5C449.0,226.1 449.6,227.7 450.1,228.0C450.5,228.2 451.0,228.4 451.4,228.4C451.9,228.4 452.3,226.4 452.8,226.4C453.2,226.4 453.7,226.4 454.1,226.4C454.6,226.4 455.2,227.4 455.7,227.4C456.2,227.4 456.8,227.0 457.3,226.4C457.9,225.7 458.5,218.2 459.1,213.7C459.7,209.1 460.3,199.2 460.9,199.2C461.2,199.2 461.6,201.0 461.9,202.2C462.3,203.4 462.6,205.1 463.0,207.1C463.4,209.4 463.8,213.2 464.2,216.7C464.6,220.1 465.0,227.9 465.4,227.9C465.8,227.9 466.3,227.2 466.7,226.4C467.2,225.7 467.6,222.9 468.1,222.3C468.5,221.7 469.0,221.1 469.4,221.1C469.8,221.1 470.2,223.3 470.6,223.7C471.0,224.1 471.4,224.5 471.8,224.5C472.0,224.5 472.2,217.0 472.4,217.0C472.9,217.0 473.5,221.0 474.0,222.5C474.5,224.0 475.1,226.4 475.6,226.4C476.0,226.4 476.4,222.5 476.8,221.1C477.2,219.8 477.6,217.8 478.0,217.8C478.4,217.8 478.8,221.5 479.2,222.9C479.6,224.3 480.0,226.4 480.4,226.4C480.8,226.4 481.2,224.6 481.6,223.4C482.0,222.2 482.4,219.2 482.8,219.2C483.2,219.2 483.6,220.0 484.1,220.7C484.5,221.4 484.9,224.1 485.3,224.1C485.7,224.1 486.1,222.2 486.5,222.0C486.9,221.8 487.3,221.7 487.7,221.7C488.2,221.7 488.8,224.8 489.3,225.7C489.8,226.7 490.4,228.0 490.9,228.0C491.4,228.0 492.0,222.1 492.5,219.6C493.0,217.1 493.6,212.9 494.1,212.9C494.5,212.9 494.9,216.9 495.3,219.2C495.7,221.6 496.1,227.2 496.5,227.2C496.9,227.2 497.3,224.4 497.7,223.4C498.1,222.4 498.5,220.9 498.9,220.9C499.4,220.9 500.0,221.6 500.5,221.6C501.0,221.6 501.6,220.6 502.1,220.1C502.6,219.6 503.2,218.5 503.7,218.5C504.1,218.5 504.5,222.2 504.9,224.5C505.3,226.7 505.7,232.0 506.1,232.1C506.6,232.2 507.2,232.2 507.7,232.2C508.2,232.3 508.8,233.7 509.3,233.7C509.9,233.7 510.4,230.0 511.0,227.9C511.5,225.8 512.1,221.0 512.6,221.0C513.0,221.0 513.4,223.7 513.8,225.2C514.2,226.8 514.6,230.4 515.0,230.4C515.4,230.4 515.8,228.3 516.2,227.0C516.6,225.6 517.0,221.8 517.4,221.8C517.8,221.8 518.2,223.9 518.6,225.2C519.0,226.5 519.4,229.6 519.8,229.6C520.3,229.6 520.9,225.3 521.4,223.5C521.9,221.7 522.5,218.8 523.0,218.8C523.4,218.8 523.8,219.3 524.2,219.8C524.6,220.3 525.0,222.2 525.4,222.2C525.9,222.2 526.5,218.8 527.0,218.8C527.4,218.8 527.8,222.8 528.2,224.5C528.6,226.3 529.0,229.4 529.4,229.4C529.9,229.4 530.5,227.3 531.0,226.8C531.5,226.3 532.1,226.3 532.6,225.7C533.0,225.2 533.4,223.6 533.8,222.3C534.2,221.0 534.6,217.8 535.0,217.8C535.4,217.8 535.8,220.5 536.2,222.1C536.6,223.8 537.0,228.0 537.4,228.0C537.9,228.0 538.3,225.0 538.8,224.5C539.2,224.0 539.7,224.0 540.1,223.5C540.6,223.0 541.0,220.2 541.5,220.2C542.0,220.2 542.6,223.9 543.1,225.5C543.6,227.0 544.2,229.6 544.7,229.6C545.1,229.6 545.6,226.7 546.0,226.3C546.5,226.0 546.9,226.1 547.4,225.8C547.8,225.4 548.3,222.9 548.7,222.5C549.1,222.1 549.6,222.0 550.0,221.7C550.5,221.3 550.9,220.7 551.4,220.1C551.8,219.5 552.3,218.0 552.7,218.0C553.2,218.0 553.8,218.9 554.3,219.6C554.8,220.3 555.4,223.0 555.9,223.0C556.4,223.0 557.0,220.9 557.5,220.5C558.0,220.0 558.6,219.6 559.1,219.6C559.5,219.6 559.9,222.6 560.3,223.9C560.7,225.1 561.1,227.2 561.5,227.2C562.0,227.2 562.4,226.5 562.9,226.0C563.3,225.5 563.8,224.9 564.2,224.1C564.7,223.3 565.1,220.9 565.6,220.9C566.1,220.9 566.7,221.4 567.2,221.9C567.7,222.4 568.3,224.1 568.8,224.1C569.3,224.1 569.9,223.6 570.4,223.1C570.9,222.7 571.5,221.4 572.0,220.9C572.4,220.5 572.8,220.4 573.2,219.9C573.6,219.4 574.0,217.2 574.4,217.2C574.8,217.2 575.3,221.5 575.7,223.4C576.1,225.3 576.6,228.5 577.0,228.5C577.6,228.5 578.3,224.0 578.9,224.0C579.6,224.0 580.2,228.5 580.9,228.5C581.4,228.5 582.0,226.4 582.5,225.0C583.1,223.6 583.6,219.4 584.2,219.4C584.6,219.4 585.1,220.8 585.5,221.8C585.9,222.9 586.4,225.0 586.8,226.3C587.4,227.9 587.9,229.4 588.5,230.5C589.0,231.6 589.6,233.1 590.1,233.1C590.5,233.1 591.0,229.8 591.4,228.6C591.8,227.4 592.3,226.5 592.7,225.6C593.2,224.5 593.8,223.3 594.4,222.7C594.9,222.1 595.5,221.3 596.0,221.3C596.5,221.3 596.9,224.2 597.4,225.2C597.8,226.2 598.2,227.7 598.7,227.7C599.2,227.7 599.8,226.8 600.3,226.2C600.8,225.5 601.4,223.0 601.9,223.0C602.6,223.0 603.2,224.3 603.9,224.3C604.6,224.3 605.2,221.7 605.9,221.7C606.3,221.7 606.8,225.8 607.2,227.4C607.6,229.1 608.1,231.8 608.5,231.8C608.9,231.8 609.4,229.4 609.8,228.0C610.2,226.6 610.7,223.2 611.1,223.2C611.8,223.2 612.4,226.9 613.1,226.9C613.5,226.9 614.0,224.5 614.4,224.2C614.8,223.9 615.3,223.6 615.7,223.6C616.1,223.6 616.6,224.8 617.0,225.6C617.5,226.4 617.9,228.6 618.4,228.6C618.8,228.6 619.3,224.0 619.7,222.1C620.1,220.1 620.6,216.8 621.0,216.8C621.7,216.8 622.3,221.3 623.0,223.0C623.6,224.7 624.3,227.3 624.9,227.3C625.4,227.3 625.8,225.1 626.2,224.5C626.7,223.9 627.1,223.2 627.6,223.2C628.0,223.2 628.5,224.4 628.9,225.2C629.3,226.0 629.8,227.4 630.2,228.2C630.9,229.5 631.5,231.5 632.2,231.5C632.6,231.5 633.1,229.2 633.5,228.3C633.9,227.5 634.4,226.3 634.8,226.3C635.2,226.3 635.7,228.2 636.1,228.2C636.5,228.2 637.0,228.2 637.4,228.2C637.8,228.2 638.3,227.2 638.7,226.5C639.1,225.7 639.6,223.3 640.0,223.0C640.5,222.7 640.9,222.8 641.4,222.5C641.8,222.3 642.2,220.4 642.7,220.4C643.1,220.4 643.6,221.6 644.0,221.6C644.4,221.6 644.9,221.0 645.3,221.0C645.7,221.0 646.2,224.1 646.6,225.2C647.0,226.4 647.5,228.2 647.9,228.2C648.3,228.2 648.8,228.1 649.2,228.0C649.6,227.9 650.1,226.5 650.5,225.6C651.0,224.5 651.6,222.9 652.1,221.9C652.7,220.9 653.2,219.4 653.8,219.4C654.2,219.4 654.7,222.1 655.1,223.1C655.6,224.1 656.0,225.7 656.5,225.7C657.1,225.7 657.8,222.3 658.4,222.3C659.1,222.3 659.7,225.3 660.4,226.9C660.9,228.2 661.5,230.9 662.0,230.9C662.6,230.9 663.2,229.3 663.8,228.5" stroke="#52c09a" stroke-width="3.4"/>
<path d="M50.4,272.7C51.0,272.4 51.6,272.3 52.2,271.8C52.9,271.4 53.5,268.4 54.1,268.4C54.6,268.4 55.0,272.0 55.5,273.2C55.9,274.4 56.4,276.1 56.8,276.1C57.2,276.1 57.6,273.8 58.0,273.2C58.4,272.5 58.8,271.7 59.2,271.7C59.6,271.7 60.0,274.6 60.5,275.2C60.9,275.8 61.3,276.5 61.7,276.5C62.1,276.5 62.5,274.8 62.9,274.4C63.3,274.0 63.7,273.6 64.1,273.5C64.6,273.4 65.2,273.5 65.7,273.4C66.2,273.3 66.8,272.4 67.3,271.9C67.8,271.4 68.4,270.4 68.9,270.4C69.4,270.4 70.0,270.7 70.5,271.1C71.0,271.5 71.6,274.7 72.1,275.6C72.6,276.4 73.2,277.3 73.7,277.3C74.2,277.3 74.8,275.0 75.3,274.8C75.8,274.6 76.4,274.5 76.9,274.5C77.4,274.5 78.0,275.2 78.5,275.7C79.0,276.2 79.6,278.1 80.1,278.1C80.5,278.1 80.9,275.5 81.3,275.4C81.7,275.3 82.1,275.3 82.5,275.3C83.2,275.3 83.8,276.4 84.5,277.3C85.2,278.2 85.8,281.7 86.5,281.7C87.0,281.7 87.6,280.7 88.2,279.8C88.7,279.0 89.2,276.1 89.8,276.1C90.2,276.1 90.6,276.4 91.0,276.7C91.4,277.0 91.8,279.3 92.2,279.3C92.7,279.3 93.3,279.0 93.8,278.6C94.3,278.2 94.9,275.9 95.4,275.9C95.8,275.9 96.2,276.0 96.6,276.2C97.0,276.3 97.4,278.3 97.8,278.3C98.2,278.3 98.6,278.0 99.0,277.6C99.4,277.2 99.8,275.8 100.2,275.1C100.7,274.2 101.3,272.8 101.8,272.7C102.3,272.7 102.9,272.7 103.4,272.7C103.9,272.7 104.5,275.5 105.0,275.9C105.5,276.3 106.1,276.3 106.6,276.7C107.1,277.1 107.7,278.4 108.2,278.8C108.7,279.2 109.3,279.7 109.8,279.7C110.4,279.7 111.0,275.5 111.7,274.0C112.3,272.5 112.9,270.1 113.5,270.1C114.0,270.1 114.4,272.8 114.9,273.5C115.4,274.2 115.8,274.6 116.3,275.1C116.7,275.5 117.1,275.6 117.5,276.1C117.9,276.7 118.3,279.7 118.7,279.7C119.2,279.7 119.8,277.8 120.3,277.5C120.8,277.1 121.4,277.1 121.9,276.7C122.4,276.3 123.0,274.9 123.5,274.9C124.0,274.9 124.6,275.1 125.1,275.1C125.6,275.1 126.2,274.6 126.7,274.1C127.2,273.6 127.8,271.3 128.3,271.3C128.8,271.3 129.4,271.4 129.9,271.6C130.4,271.8 131.0,273.5 131.5,274.3C132.0,275.1 132.6,276.1 133.1,276.3C133.6,276.5 134.2,276.7 134.7,276.7C135.2,276.7 135.8,276.7 136.3,276.7C136.8,276.7 137.4,275.1 137.9,275.1C138.4,275.1 139.0,276.7 139.5,276.7C140.0,276.7 140.6,276.3 141.1,275.9C141.8,275.4 142.5,273.8 143.1,273.1C143.8,272.5 144.5,271.7 145.2,271.7C145.6,271.7 146.0,272.6 146.4,273.2C146.8,273.9 147.2,275.1 147.6,275.9C148.1,276.9 148.7,278.5 149.2,278.6C149.7,278.8 150.3,278.9 150.8,278.9C151.3,278.9 151.9,275.3 152.4,274.3C152.9,273.2 153.5,272.8 154.0,271.9C154.4,271.2 154.8,269.8 155.2,269.5C155.6,269.2 156.0,268.9 156.4,268.9C157.0,268.9 157.5,269.2 158.1,269.6C158.7,270.0 159.2,273.1 159.8,273.1C160.3,273.1 160.9,272.6 161.4,272.6C161.9,272.6 162.5,273.2 163.0,273.9C163.4,274.4 163.8,276.0 164.2,276.7C164.6,277.3 165.0,278.1 165.4,278.1C166.0,278.1 166.5,277.3 167.1,276.5C167.6,275.7 168.2,272.1 168.7,272.1C169.1,272.1 169.5,272.9 169.9,273.5C170.3,274.2 170.7,276.5 171.1,276.5C171.6,276.5 172.2,276.3 172.7,276.1C173.2,275.9 173.8,272.9 174.3,272.9C175.0,272.9 175.6,274.5 176.3,275.6C177.0,276.6 177.6,279.7 178.3,279.7C178.7,279.7 179.1,279.3 179.5,278.9C179.9,278.5 180.3,275.3 180.7,275.3C181.1,275.3 181.5,276.1 181.9,276.7C182.3,277.3 182.7,279.3 183.1,279.3C183.5,279.3 183.9,277.2 184.3,276.7C184.7,276.1 185.1,275.5 185.5,275.5C186.0,275.5 186.6,277.0 187.1,277.3C187.6,277.6 188.2,277.9 188.7,277.9C189.2,277.9 189.8,277.1 190.3,276.4C190.8,275.6 191.4,272.3 191.9,272.3C192.3,272.3 192.7,273.6 193.1,273.7C193.5,273.8 193.9,273.8 194.3,273.9C194.7,274.0 195.1,274.6 195.6,275.2C196.0,275.7 196.4,277.9 196.8,277.9C197.3,277.9 197.9,276.9 198.4,276.9C198.9,276.9 199.5,277.1 200.0,277.1C200.4,277.1 200.8,276.6 201.2,276.1C201.6,275.6 202.0,273.3 202.4,273.3C202.8,273.3 203.2,275.4 203.6,276.0C204.0,276.6 204.4,277.3 204.8,277.3C205.2,277.3 205.6,277.2 206.0,277.2C206.4,277.1 206.8,274.5 207.2,274.5C207.6,274.5 208.0,274.5 208.4,274.6C208.8,274.7 209.2,277.3 209.6,277.3C210.0,277.3 210.4,274.7 210.8,274.2C211.2,273.7 211.6,273.3 212.0,273.3C212.4,273.3 212.8,276.0 213.2,276.1C213.6,276.2 214.0,276.3 214.4,276.3C214.9,276.3 215.5,274.0 216.0,273.9C216.5,273.9 217.1,273.9 217.6,273.9C218.1,273.9 218.5,268.8 219.0,267.0C219.5,265.2 219.9,262.5 220.4,262.5C220.9,262.5 221.4,265.6 221.9,267.6C222.3,269.6 222.8,274.9 223.3,274.9C223.7,274.9 224.1,274.3 224.5,273.7C224.9,273.1 225.3,269.9 225.7,269.9C226.2,269.9 226.8,269.9 227.3,269.9C227.9,269.9 228.6,274.9 229.2,274.9C229.7,274.9 230.2,269.5 230.6,267.4C231.1,265.2 231.6,261.7 232.1,261.7C232.6,261.7 233.2,263.3 233.7,264.3C234.2,265.4 234.8,267.1 235.3,268.3C235.7,269.2 236.1,270.4 236.5,271.0C236.9,271.5 237.3,272.1 237.7,272.1C238.4,272.1 239.0,271.2 239.7,270.5C240.4,269.8 241.0,267.3 241.7,267.3C242.2,267.3 242.8,271.2 243.3,272.7C243.8,274.2 244.4,276.5 244.9,276.5C245.4,276.5 245.9,272.5 246.4,271.4C246.8,270.3 247.3,268.9 247.8,268.9C248.4,268.9 249.1,275.7 249.7,275.7C250.2,275.7 250.8,273.3 251.3,272.5C251.9,271.8 252.4,271.6 253.0,270.7C253.5,269.8 254.1,267.0 254.6,264.8C255.1,262.5 255.7,256.8 256.2,256.8C256.6,256.8 257.0,257.5 257.4,258.2C257.8,258.8 258.2,261.1 258.6,261.1C259.0,261.1 259.4,260.3 259.8,260.3C260.2,260.3 260.6,261.0 261.0,261.9C261.5,263.1 262.1,272.5 262.6,273.1C263.2,273.8 263.9,273.7 264.5,274.2C265.1,274.7 265.8,276.8 266.4,276.8C266.9,276.8 267.5,275.9 268.0,275.1C268.5,274.4 269.1,271.9 269.6,271.9C270.0,271.9 270.4,272.2 270.8,272.6C271.2,272.9 271.6,274.7 272.0,274.7C272.6,274.7 273.2,273.1 273.8,271.9C274.4,270.7 275.0,267.1 275.6,267.1C276.1,267.1 276.6,268.5 277.1,269.5C277.5,270.4 278.0,273.1 278.5,273.1C278.9,273.1 279.3,270.1 279.7,269.7C280.1,269.3 280.5,268.9 280.9,268.9C281.3,268.9 281.7,271.2 282.1,271.2C282.5,271.3 282.9,271.3 283.3,271.3C283.7,271.3 284.1,263.2 284.5,259.7C284.9,256.2 285.3,250.2 285.7,250.2C286.1,250.2 286.5,256.5 286.9,260.1C287.3,263.7 287.7,271.9 288.1,271.9C288.5,271.9 288.9,271.8 289.3,271.6C289.7,271.5 290.1,269.1 290.5,269.1C290.9,269.1 291.3,270.7 291.7,271.7C292.1,272.8 292.5,275.5 292.9,275.5C293.4,275.5 293.8,271.7 294.3,270.3C294.8,269.0 295.2,267.1 295.7,267.1C296.2,267.1 296.6,270.5 297.1,271.6C297.6,272.8 298.0,274.5 298.5,274.5C299.1,274.5 299.6,273.2 300.1,273.1C300.7,273.0 301.2,272.9 301.8,272.9C302.2,272.9 302.6,275.5 303.0,275.8C303.4,276.1 303.8,276.3 304.2,276.3C304.6,276.3 305.1,272.2 305.5,270.9C306.0,269.6 306.4,267.9 306.9,267.9C307.4,267.9 307.9,270.3 308.4,270.9C308.8,271.4 309.3,271.5 309.8,272.1C310.2,272.6 310.6,274.8 311.0,274.9C311.4,275.0 311.8,275.1 312.2,275.1C312.6,275.1 313.0,272.1 313.4,270.1C313.8,268.0 314.2,262.3 314.6,262.3C315.1,262.3 315.6,267.4 316.1,270.5C316.5,273.6 317.0,281.2 317.5,281.2C317.9,281.2 318.4,275.4 318.9,273.1C319.3,270.8 319.8,267.1 320.2,267.1C320.6,267.1 321.0,271.9 321.4,273.8C321.8,275.7 322.2,278.7 322.6,278.7C323.1,278.7 323.7,271.6 324.2,268.6C324.7,265.7 325.3,260.7 325.8,260.7C326.4,260.7 326.9,264.2 327.5,266.2C328.0,268.2 328.6,272.9 329.1,272.9C329.5,272.9 329.9,272.3 330.3,272.3C330.7,272.3 331.1,273.6 331.5,274.5C331.9,275.4 332.3,277.3 332.7,277.8C333.1,278.3 333.5,278.7 333.9,278.7C334.6,278.7 335.2,278.1 335.9,277.4C336.6,276.8 337.2,273.5 337.9,273.5C338.3,273.5 338.7,276.5 339.1,277.4C339.5,278.3 339.9,279.5 340.3,279.5C341.0,279.5 341.6,276.5 342.3,275.7C343.0,274.9 343.6,273.9 344.3,273.9C344.8,273.9 345.4,274.2 345.9,274.6C346.4,274.9 347.0,276.9 347.5,276.9C348.2,276.9 348.8,276.7 349.5,276.7C350.2,276.7 350.8,278.5 351.5,278.5C352.2,278.5 352.9,275.5 353.6,275.2C354.2,274.9 354.9,274.7 355.6,274.7C356.3,274.7 356.9,274.9 357.6,275.2C358.3,275.5 358.9,276.9 359.6,277.7C360.1,278.4 360.7,279.4 361.2,279.7C361.7,279.9 362.3,280.1 362.8,280.1C363.2,280.1 363.6,277.2 364.0,276.3C364.4,275.5 364.8,274.3 365.2,274.3C365.6,274.3 366.0,275.3 366.4,276.2C366.8,277.0 367.2,280.3 367.6,280.3C368.2,280.3 368.7,278.3 369.3,278.3C369.9,278.3 370.4,279.3 371.0,279.3C371.6,279.3 372.1,277.1 372.7,277.1C373.2,277.1 373.8,279.3 374.3,279.5C374.8,279.8 375.4,279.9 375.9,279.9C376.4,279.9 377.0,277.9 377.5,277.4C378.1,277.0 378.6,276.6 379.2,276.6C379.8,276.6 380.3,279.2 380.9,280.1C381.4,280.9 381.9,282.1 382.5,282.1C383.1,282.1 383.6,280.7 384.1,279.6C384.7,278.5 385.2,275.8 385.8,274.7C386.4,273.6 386.9,272.3 387.5,272.3C388.0,272.3 388.6,272.4 389.1,272.5C389.7,272.6 390.2,275.2 390.8,276.1C391.3,277.0 391.8,278.3 392.4,278.3C392.9,278.3 393.5,278.0 394.0,277.6C394.6,277.3 395.1,275.5 395.7,275.5C396.4,275.5 397.1,278.3 397.8,278.3C398.4,278.3 398.9,275.2 399.5,274.3C400.0,273.4 400.6,272.2 401.1,272.2C401.7,272.2 402.2,273.5 402.8,274.5C403.3,275.5 403.8,278.0 404.4,279.1C404.9,280.1 405.4,281.5 405.9,281.5C406.4,281.5 406.8,280.4 407.3,280.4C407.8,280.4 408.3,282.1 408.8,282.4C409.5,282.8 410.3,283.2 411.0,283.2C411.7,283.2 412.5,281.9 413.2,281.3C413.7,280.9 414.2,280.6 414.7,280.1C415.2,279.6 415.6,279.0 416.1,278.2C416.6,277.4 417.1,275.0 417.6,275.0C418.1,275.0 418.7,277.9 419.2,278.8C419.7,279.8 420.3,281.0 420.8,281.0C421.4,281.0 421.9,278.0 422.5,277.1C423.0,276.1 423.6,274.7 424.1,274.7C424.7,274.7 425.2,274.7 425.8,274.7C426.3,274.7 426.8,276.9 427.4,276.9C427.9,276.9 428.5,276.6 429.0,276.3C429.6,276.0 430.1,273.6 430.7,273.6C431.2,273.6 431.7,275.4 432.2,275.4C432.7,275.4 433.1,274.0 433.6,274.0C434.1,274.0 434.6,275.0 435.1,275.8C435.7,276.7 436.2,278.6 436.8,279.4C437.3,280.1 437.8,281.1 438.4,281.1C439.1,281.1 439.8,278.6 440.5,278.4C441.3,278.3 442.0,278.2 442.7,278.2C443.2,278.2 443.7,280.3 444.2,280.3C444.7,280.3 445.1,279.6 445.6,279.6C446.1,279.6 446.6,282.1 447.1,282.1C447.8,282.1 448.6,280.0 449.3,279.7C450.0,279.4 450.8,279.1 451.5,279.1C452.1,279.1 452.7,279.1 453.3,279.1C453.9,279.1 454.6,276.0 455.2,275.6C455.8,275.2 456.4,275.0 457.0,275.0C457.5,275.0 458.1,277.5 458.6,278.2C459.1,279.0 459.7,279.9 460.2,279.9C460.8,279.9 461.3,277.4 461.9,277.1C462.4,276.8 462.9,276.6 463.5,276.6C464.2,276.6 465.0,277.1 465.7,277.6C466.4,278.0 467.2,279.7 467.9,279.9C468.4,280.1 468.9,280.2 469.4,280.2C469.9,280.2 470.3,277.2 470.8,277.2C471.3,277.2 471.8,277.1 472.3,277.1C473.0,277.1 473.8,277.6 474.5,278.0C475.2,278.5 476.0,280.2 476.7,280.2C477.4,280.2 478.1,280.0 478.9,279.8C479.6,279.5 480.3,278.0 481.0,278.0C481.6,278.0 482.2,280.1 482.8,280.1C483.4,280.1 484.1,279.9 484.7,279.9C485.3,279.9 485.9,282.1 486.5,282.1C487.2,282.1 488.0,281.8 488.7,281.4C489.4,281.0 490.2,278.8 490.9,278.8C491.5,278.8 492.1,278.9 492.7,279.1C493.3,279.2 494.0,279.6 494.6,279.9C495.2,280.3 495.8,281.4 496.4,281.6C497.0,281.8 497.6,281.9 498.2,281.9C498.8,281.9 499.5,281.0 500.1,280.4C500.7,279.8 501.3,278.2 501.9,278.2C502.6,278.2 503.3,280.1 504.0,280.4C504.8,280.8 505.5,281.1 506.2,281.1C506.7,281.1 507.2,279.6 507.7,279.3C508.2,278.9 508.6,278.7 509.1,278.6C509.6,278.4 510.1,278.2 510.6,278.2C511.2,278.2 511.7,281.6 512.3,282.4C512.8,283.1 513.3,284.0 513.8,284.0C514.3,284.0 514.8,283.9 515.3,283.6C515.9,283.3 516.4,278.4 517.0,278.4C517.6,278.4 518.2,279.5 518.8,279.5C519.2,279.5 519.6,279.2 520.0,278.9C520.3,278.6 520.7,276.4 521.1,276.4C521.5,276.4 521.9,276.8 522.2,277.2C522.6,277.6 523.0,279.5 523.4,279.5C523.8,279.5 524.2,279.5 524.6,279.5C525.0,279.5 525.4,281.3 525.8,281.3C526.2,281.3 526.6,281.1 527.0,281.1C527.3,281.1 527.7,282.4 528.1,282.4C528.5,282.4 528.9,282.1 529.2,281.7C529.6,281.3 530.0,278.7 530.4,278.7C530.8,278.7 531.2,279.1 531.6,279.5C532.0,279.9 532.4,282.2 532.8,282.2C533.2,282.2 533.6,281.7 534.0,281.2C534.3,280.6 534.7,277.4 535.1,277.4C535.5,277.4 535.9,280.4 536.2,281.1C536.6,281.9 537.0,282.8 537.4,282.8C537.8,282.8 538.2,279.8 538.6,279.2C539.0,278.6 539.4,278.0 539.8,278.0C540.2,278.0 540.6,280.5 541.0,281.1C541.3,281.6 541.7,282.1 542.1,282.1C542.5,282.1 542.9,281.8 543.3,281.5C543.7,281.2 544.1,278.4 544.5,278.4C544.9,278.4 545.3,278.5 545.6,278.6C546.0,278.6 546.4,280.6 546.8,280.7C547.2,280.8 547.6,280.9 548.0,280.9C548.3,280.9 548.7,279.5 549.1,279.5C549.5,279.5 549.9,282.4 550.3,282.6C550.7,282.8 551.1,282.9 551.5,282.9C551.9,282.9 552.3,280.5 552.6,279.9C553.0,279.2 553.4,278.4 553.8,278.4C554.2,278.4 554.6,278.7 555.0,279.0C555.3,279.4 555.7,281.8 556.1,282.4C556.5,283.0 556.9,283.7 557.3,283.7C557.7,283.7 558.1,283.1 558.5,283.0C558.9,282.9 559.3,282.7 559.6,282.7C560.0,282.7 560.4,284.2 560.8,284.2C561.2,284.2 561.6,282.0 562.0,281.8C562.3,281.5 562.7,281.5 563.1,281.3C563.7,281.0 564.3,279.5 564.9,279.5C565.3,279.5 565.7,281.2 566.0,281.7C566.4,282.1 566.8,282.6 567.2,282.6C567.6,282.6 568.0,280.2 568.4,279.8C568.8,279.3 569.2,278.9 569.6,278.9C570.0,278.9 570.4,279.4 570.8,279.4C571.1,279.4 571.5,277.8 571.9,277.8C572.3,277.8 572.7,278.5 573.0,279.1C573.4,279.8 573.8,282.4 574.2,282.4C574.6,282.4 575.0,281.1 575.4,280.9C575.8,280.8 576.2,280.7 576.6,280.7C577.0,280.7 577.4,281.3 577.8,281.3C578.1,281.3 578.5,280.1 578.9,280.1C579.3,280.1 579.7,282.0 580.0,282.3C580.4,282.7 580.8,282.9 581.2,283.0C581.6,283.1 582.0,283.1 582.4,283.1C582.8,283.1 583.2,281.3 583.6,281.3C584.0,281.3 584.4,281.3 584.8,281.3C585.1,281.3 585.5,279.5 585.9,279.5C586.4,279.5 586.8,279.5 587.3,279.5C587.7,279.5 588.1,281.4 588.5,281.4C588.9,281.4 589.3,281.3 589.7,281.3C590.1,281.3 590.5,281.1 590.9,281.1C591.2,281.1 591.6,282.4 592.0,282.4C592.4,282.4 592.8,280.2 593.1,280.2C593.5,280.2 593.9,280.6 594.3,280.7C594.7,280.9 595.1,280.9 595.5,281.1C595.9,281.4 596.3,283.8 596.7,283.8C597.1,283.8 597.5,281.8 597.9,281.1C598.2,280.4 598.6,279.5 599.0,279.5C599.6,279.5 600.2,280.2 600.8,280.7C601.2,281.0 601.6,281.5 602.0,282.1C602.3,282.7 602.7,285.0 603.1,285.0C603.5,285.0 603.9,284.5 604.2,284.0C604.6,283.5 605.0,281.4 605.4,281.4C606.0,281.4 606.6,284.1 607.2,284.1C607.6,284.1 608.0,282.9 608.4,282.1C608.7,281.2 609.1,278.4 609.5,278.4C609.9,278.4 610.3,280.1 610.7,280.5C611.1,280.9 611.5,281.3 611.9,281.3C612.3,281.3 612.7,280.3 613.0,280.3C613.4,280.3 613.8,281.6 614.2,281.9C614.6,282.2 615.0,282.5 615.4,282.5C615.7,282.5 616.1,280.7 616.5,280.7C616.9,280.7 617.3,282.1 617.7,282.4C618.1,282.7 618.5,283.0 618.9,283.0C619.3,283.0 619.7,282.9 620.0,282.8C620.4,282.7 620.8,280.2 621.2,280.2C621.6,280.2 622.0,280.5 622.4,280.9C622.7,281.2 623.1,283.6 623.5,283.6C623.9,283.6 624.3,281.5 624.7,281.4C625.1,281.4 625.5,281.4 625.9,281.3C626.3,281.2 626.7,281.1 627.0,281.1C627.4,281.1 627.8,282.2 628.2,282.4C628.6,282.6 629.0,282.9 629.4,282.9C629.7,282.9 630.1,280.7 630.5,280.7C630.9,280.7 631.3,283.0 631.7,283.2C632.1,283.4 632.5,283.6 632.9,283.6C633.3,283.6 633.7,282.3 634.0,282.3C634.4,282.3 634.8,282.4 635.2,282.4C635.6,282.4 636.0,282.0 636.4,282.0C636.8,282.0 637.2,284.2 637.6,284.2C638.0,284.2 638.4,281.5 638.8,281.4C639.1,281.4 639.5,281.4 639.9,281.3C640.3,281.2 640.7,281.0 641.0,281.0C641.4,281.0 641.8,283.0 642.2,283.0C642.6,283.0 643.0,282.7 643.4,282.4C643.8,282.1 644.2,280.1 644.6,280.1C645.0,280.1 645.4,282.5 645.8,282.5C646.1,282.5 646.5,282.4 646.9,282.4C647.3,282.4 647.7,284.0 648.0,284.0C648.4,284.0 648.8,283.8 649.2,283.6C649.6,283.4 650.0,282.1 650.4,282.0C650.8,281.9 651.2,281.9 651.6,281.9C652.0,281.9 652.4,282.0 652.8,282.1C653.1,282.2 653.5,283.3 653.9,283.6C654.3,283.9 654.7,284.3 655.0,284.3C655.4,284.3 655.8,282.4 656.2,282.4C656.6,282.4 657.0,284.0 657.4,284.3C657.8,284.5 658.2,284.5 658.6,284.8C659.0,285.0 659.4,286.1 659.8,286.1C660.1,286.1 660.5,285.7 660.9,285.4C661.3,285.1 661.7,283.3 662.0,283.3C662.4,283.3 662.8,283.5 663.2,283.6" stroke="#ec0006" stroke-width="2.8"/>
<path d="M52.0,441.1C52.4,441.2 52.8,441.4 53.2,441.4C53.6,441.4 54.0,440.3 54.4,440.3C54.9,440.3 55.5,448.5 56.0,448.5C56.4,448.5 56.8,447.8 57.2,447.3C57.6,446.7 58.0,444.9 58.4,444.9C58.8,444.9 59.2,445.0 59.6,445.3C60.0,445.5 60.4,448.1 60.8,448.1C61.3,448.1 61.9,447.4 62.4,446.9C63.0,446.3 63.5,444.3 64.1,444.3C64.6,444.3 65.2,446.1 65.7,446.1C66.2,446.1 66.8,446.0 67.3,445.9C67.8,445.8 68.4,444.2 68.9,444.2C69.4,444.2 70.0,444.2 70.5,444.3C71.0,444.4 71.6,444.8 72.1,445.4C72.6,445.9 73.2,448.9 73.7,448.9C74.2,448.9 74.8,448.5 75.3,448.1C75.8,447.7 76.4,446.1 76.9,446.1C77.4,446.1 78.0,447.1 78.5,447.8C79.0,448.5 79.6,450.4 80.1,450.4C80.5,450.4 80.9,448.9 81.3,448.6C81.7,448.2 82.1,447.8 82.5,447.8C83.2,447.8 83.8,450.7 84.5,451.5C85.2,452.3 85.8,453.3 86.5,453.3C86.9,453.3 87.3,451.1 87.8,450.3C88.2,449.4 88.6,448.1 89.0,448.1C89.4,448.1 89.8,448.4 90.2,448.6C90.6,448.9 91.0,451.2 91.4,451.2C91.9,451.2 92.5,449.7 93.0,449.2C93.5,448.8 94.1,448.3 94.6,448.3C95.1,448.3 95.7,449.9 96.2,449.9C96.7,449.9 97.3,449.5 97.8,449.1C98.3,448.7 98.9,446.9 99.4,446.5C99.9,446.2 100.5,446.2 101.0,445.9C101.5,445.6 102.1,444.6 102.6,444.6C103.1,444.6 103.7,444.9 104.2,445.1C104.6,445.2 105.0,445.3 105.4,445.5C105.8,445.8 106.2,448.0 106.6,448.3C107.1,448.7 107.7,448.6 108.2,448.9C108.7,449.2 109.3,451.2 109.8,451.2C110.5,451.2 111.1,447.5 111.8,446.1C112.5,444.7 113.1,442.5 113.8,442.5C114.2,442.5 114.6,445.5 115.0,446.3C115.5,447.2 115.9,447.5 116.3,448.3C116.7,449.0 117.1,450.5 117.5,451.0C117.9,451.5 118.3,452.1 118.7,452.1C119.2,452.1 119.8,451.3 120.3,450.6C120.8,450.0 121.4,448.3 121.9,447.5C122.4,446.7 123.0,445.5 123.5,445.5C124.0,445.5 124.6,445.9 125.1,445.9C125.6,445.9 126.2,445.7 126.7,445.4C127.2,445.2 127.8,443.5 128.3,443.5C128.8,443.5 129.4,445.9 129.9,446.2C130.4,446.5 131.0,446.5 131.5,446.7C132.0,446.9 132.6,448.1 133.1,448.1C133.6,448.1 134.2,447.5 134.7,447.5C135.2,447.5 135.8,447.6 136.3,447.6C136.8,447.7 137.4,448.7 137.9,449.1C138.4,449.5 139.0,450.2 139.5,450.2C140.0,450.2 140.6,450.1 141.1,449.9C141.8,449.6 142.5,447.4 143.1,446.5C143.8,445.5 144.5,444.1 145.2,444.1C145.6,444.1 146.0,446.8 146.4,447.9C146.8,449.0 147.2,450.6 147.6,450.7C148.1,450.8 148.7,450.8 149.2,450.9C149.7,451.0 150.3,452.3 150.8,452.3C151.3,452.3 151.9,450.2 152.4,448.9C152.9,447.6 153.5,445.8 154.0,444.5C154.4,443.5 154.8,442.2 155.2,441.9C155.6,441.7 156.0,441.4 156.4,441.4C157.0,441.4 157.5,442.2 158.1,443.0C158.7,443.7 159.2,446.5 159.8,446.5C160.3,446.5 160.9,446.3 161.4,446.3C161.9,446.3 162.5,446.8 163.0,447.3C163.4,447.7 163.8,449.1 164.2,449.7C164.6,450.3 165.0,451.1 165.4,451.1C166.0,451.1 166.5,449.9 167.1,449.1C167.6,448.2 168.2,445.5 168.7,445.5C169.1,445.5 169.5,445.8 169.9,446.2C170.3,446.6 170.7,448.6 171.1,448.6C171.6,448.6 172.2,448.3 172.7,447.9C173.2,447.6 173.8,445.9 174.3,445.9C175.0,445.9 175.6,448.7 176.3,449.6C177.0,450.4 177.6,451.5 178.3,451.5C178.8,451.5 179.4,450.6 179.9,450.0C180.4,449.3 181.0,447.1 181.5,447.1C181.9,447.1 182.3,447.6 182.7,448.0C183.1,448.5 183.5,450.7 183.9,450.7C184.3,450.7 184.7,450.1 185.1,449.6C185.5,449.1 185.9,447.3 186.3,447.3C186.8,447.3 187.4,447.3 187.9,447.4C188.4,447.4 189.0,449.7 189.5,449.7C190.0,449.7 190.6,447.0 191.1,446.7C191.6,446.3 192.2,445.9 192.7,445.9C193.1,445.9 193.5,447.6 193.9,448.0C194.3,448.4 194.7,448.7 195.1,448.9C195.5,449.1 195.9,449.2 196.3,449.5C196.8,449.9 197.2,451.9 197.6,451.9C198.0,451.9 198.4,449.7 198.8,449.4C199.2,449.2 199.6,449.0 200.0,448.9C200.5,448.8 201.1,448.8 201.6,448.6C202.1,448.5 202.7,445.9 203.2,445.9C203.6,445.9 204.0,446.5 204.4,447.0C204.8,447.5 205.2,449.1 205.6,449.1C206.0,449.1 206.4,448.7 206.8,448.2C207.2,447.8 207.6,445.1 208.0,445.1C208.4,445.1 208.8,447.2 209.2,447.4C209.6,447.7 210.0,447.9 210.4,447.9C210.8,447.9 211.2,445.6 211.6,445.3C212.0,445.1 212.4,444.9 212.8,444.9C213.3,444.9 213.9,446.5 214.4,446.5C214.9,446.5 215.5,446.5 216.0,446.5C216.4,446.5 216.8,445.2 217.2,444.4C217.6,443.5 218.0,441.6 218.4,440.9C218.8,440.2 219.2,440.2 219.6,439.5C220.0,438.8 220.4,435.9 220.8,435.9C221.2,435.9 221.6,437.9 222.1,439.3C222.5,440.7 222.9,444.3 223.3,444.3C223.7,444.3 224.1,441.8 224.5,441.0C224.9,440.2 225.3,439.1 225.7,439.1C226.1,439.1 226.5,442.2 226.9,443.1C227.3,444.0 227.7,445.1 228.1,445.1C228.5,445.1 228.9,441.8 229.3,440.8C229.7,439.8 230.1,439.3 230.5,438.5C231.2,437.1 231.9,434.2 232.6,434.2C233.0,434.2 233.5,436.9 233.9,438.0C234.4,439.1 234.8,440.6 235.3,440.9C235.7,441.2 236.1,441.1 236.5,441.4C236.9,441.7 237.3,443.9 237.7,443.9C238.1,443.9 238.5,441.6 238.9,441.1C239.3,440.6 239.7,440.1 240.1,440.1C240.5,440.1 240.9,440.1 241.3,440.1C241.7,440.1 242.1,438.5 242.5,438.5C242.9,438.5 243.3,441.2 243.7,442.8C244.1,444.4 244.5,448.3 244.9,448.3C245.4,448.3 246.0,447.1 246.5,446.1C247.0,445.1 247.6,441.5 248.1,441.5C248.7,441.5 249.2,444.1 249.8,444.7C250.3,445.3 250.8,445.9 251.4,445.9C251.8,445.9 252.2,443.7 252.6,442.2C253.0,440.8 253.4,438.5 253.8,436.9C254.2,435.3 254.6,433.4 255.0,432.4C255.4,431.4 255.8,430.2 256.2,430.2C256.6,430.2 257.0,431.1 257.4,431.8C257.8,432.6 258.2,434.4 258.6,435.3C259.0,436.2 259.4,437.7 259.8,437.7C260.2,437.7 260.6,437.7 261.0,437.7C261.4,437.7 261.8,441.8 262.2,443.4C262.6,444.9 263.0,447.1 263.4,447.3C263.9,447.6 264.3,447.7 264.8,447.7C265.3,447.7 265.9,445.1 266.4,444.4C266.9,443.8 267.5,443.1 268.0,443.1C268.5,443.1 269.1,443.2 269.6,443.4C270.1,443.5 270.7,445.9 271.2,445.9C271.8,445.9 272.3,442.5 272.9,441.6C273.4,440.8 273.9,439.7 274.5,439.7C274.9,439.7 275.3,441.6 275.7,441.8C276.1,442.0 276.5,442.1 276.9,442.1C277.3,442.1 277.7,441.9 278.1,441.7C278.5,441.4 278.9,439.1 279.3,439.1C279.7,439.1 280.1,441.0 280.5,441.5C280.9,442.0 281.3,442.6 281.7,442.6C282.1,442.6 282.5,440.8 282.9,439.5C283.3,438.2 283.7,436.1 284.1,434.1C284.8,430.7 285.5,422.6 286.2,422.6C286.6,422.6 287.0,430.6 287.4,434.2C287.8,437.7 288.2,443.9 288.6,443.9C289.2,443.9 289.9,440.2 290.5,440.2C290.9,440.2 291.3,441.4 291.7,442.3C292.1,443.1 292.5,445.5 292.9,445.5C293.3,445.5 293.7,445.0 294.1,444.4C294.5,443.9 294.9,441.6 295.3,441.6C295.8,441.6 296.4,441.8 296.9,442.1C297.4,442.4 298.0,444.2 298.5,444.2C298.9,444.2 299.3,443.7 299.8,443.2C300.2,442.8 300.6,441.1 301.0,441.1C301.4,441.1 301.8,442.7 302.2,443.1C302.6,443.4 303.0,443.9 303.4,443.9C303.9,443.9 304.5,441.6 305.0,441.3C305.5,441.0 306.1,440.8 306.6,440.8C307.1,440.8 307.7,443.5 308.2,444.1C308.7,444.8 309.3,445.5 309.8,445.5C310.2,445.5 310.6,444.5 311.0,443.8C311.4,443.0 311.8,441.6 312.2,440.5C312.6,439.4 313.0,437.9 313.4,436.9C313.8,436.0 314.2,434.7 314.6,434.7C315.0,434.7 315.4,441.0 315.8,443.8C316.2,446.5 316.6,451.2 317.0,451.2C317.4,451.2 317.8,446.3 318.2,444.4C318.6,442.5 319.0,439.5 319.4,439.5C319.9,439.5 320.5,450.4 321.0,450.4C321.4,450.4 321.8,446.6 322.2,444.3C322.6,442.0 323.0,437.2 323.4,436.5C323.8,435.8 324.2,435.9 324.6,435.4C325.0,434.9 325.4,433.1 325.8,433.1C326.2,433.1 326.6,437.3 327.1,439.5C327.5,441.8 327.9,446.9 328.3,446.9C328.7,446.9 329.1,446.7 329.5,446.4C329.9,446.2 330.3,444.5 330.7,444.5C331.1,444.5 331.5,445.0 331.9,445.5C332.3,446.0 332.7,448.5 333.1,448.5C333.5,448.5 333.9,448.2 334.3,447.9C334.7,447.7 335.1,446.1 335.5,446.1C336.0,446.1 336.6,447.0 337.1,447.8C337.6,448.5 338.2,451.1 338.7,451.1C339.2,451.1 339.8,450.5 340.3,450.0C340.8,449.5 341.4,447.7 341.9,447.7C342.4,447.7 343.0,449.2 343.5,449.3C344.0,449.3 344.6,449.3 345.1,449.3C345.6,449.3 346.2,447.7 346.7,447.7C347.2,447.7 347.8,447.7 348.3,447.7C348.8,447.7 349.4,447.7 349.9,447.8C350.4,447.9 351.0,450.1 351.5,450.1C352.0,450.1 352.6,448.1 353.1,447.7C353.6,447.3 354.2,446.9 354.7,446.9C355.2,446.9 355.8,448.8 356.4,449.0C356.9,449.2 357.4,449.3 358.0,449.3C358.7,449.3 359.3,449.3 360.0,449.3C360.6,449.3 361.2,451.0 361.8,451.0C362.2,451.0 362.6,450.7 363.0,450.4C363.3,450.1 363.7,447.9 364.1,447.9C364.5,447.9 364.9,448.6 365.2,449.2C365.6,449.8 366.0,451.5 366.4,452.2C366.8,452.9 367.2,453.7 367.6,453.8C368.0,453.9 368.4,454.0 368.8,454.0C369.4,454.0 369.9,450.5 370.5,450.4C370.9,450.3 371.3,450.3 371.7,450.3C372.1,450.3 372.5,451.6 372.9,451.6C373.5,451.6 374.0,448.8 374.6,448.8C375.0,448.8 375.4,451.8 375.8,452.4C376.1,453.1 376.5,453.9 376.9,453.9C377.3,453.9 377.7,453.5 378.1,453.1C378.5,452.7 378.9,451.1 379.3,451.1C379.7,451.1 380.1,453.0 380.5,453.4C380.8,453.9 381.2,454.4 381.6,454.4C382.0,454.4 382.4,452.2 382.8,451.5C383.1,450.8 383.5,450.5 383.9,449.9C384.5,449.0 385.1,447.0 385.7,447.0C386.1,447.0 386.5,447.5 386.9,447.9C387.2,448.3 387.6,450.3 388.0,450.3C388.6,450.3 389.2,445.9 389.8,445.9C390.4,445.9 390.9,449.2 391.5,449.2C391.9,449.2 392.3,448.9 392.7,448.5C393.1,448.2 393.5,446.5 393.9,446.5C394.5,446.5 395.0,451.8 395.6,451.8C396.2,451.8 396.8,449.1 397.4,449.1C398.0,449.1 398.5,452.1 399.1,452.1C399.5,452.1 399.9,450.6 400.3,449.5C400.7,448.4 401.1,445.4 401.5,445.4C402.1,445.4 402.6,449.8 403.2,450.4C403.8,451.1 404.4,451.1 405.0,451.6C405.6,452.1 406.1,452.8 406.7,453.4C407.1,453.9 407.5,454.7 407.9,454.8C408.3,455.0 408.7,455.0 409.1,455.1C409.5,455.2 409.9,455.7 410.2,455.7C410.6,455.7 411.0,454.5 411.4,454.5C411.8,454.5 412.2,455.0 412.5,455.0C412.9,455.0 413.3,454.0 413.7,454.0C414.1,454.0 414.5,454.4 414.9,454.4C415.3,454.4 415.7,453.9 416.1,453.4C416.7,452.7 417.2,447.6 417.8,447.6C418.4,447.6 419.0,450.6 419.6,450.6C420.2,450.6 420.7,447.9 421.3,447.9C421.9,447.9 422.5,451.4 423.1,451.4C423.5,451.4 423.9,450.7 424.2,450.1C424.6,449.5 425.0,447.0 425.4,447.0C425.8,447.0 426.2,449.4 426.6,449.7C427.0,450.0 427.4,450.3 427.8,450.3C428.2,450.3 428.6,448.7 429.0,448.3C429.3,448.0 429.7,447.6 430.1,447.6C430.5,447.6 430.9,448.1 431.2,448.6C431.6,449.1 432.0,451.8 432.4,451.8C432.8,451.8 433.2,449.4 433.6,449.3C434.0,449.2 434.4,449.1 434.8,449.1C435.2,449.1 435.6,449.3 436.1,449.5C436.5,449.8 436.9,452.0 437.3,452.2C437.7,452.4 438.1,452.5 438.5,452.5C438.9,452.5 439.3,450.4 439.7,450.4C440.1,450.4 440.5,452.0 440.9,452.0C441.2,452.0 441.6,451.6 442.0,451.6C442.4,451.6 442.8,452.1 443.1,452.1C443.5,452.1 443.9,450.4 444.3,450.4C444.7,450.4 445.1,450.8 445.5,451.2C445.9,451.6 446.3,454.0 446.7,454.0C447.1,454.0 447.5,452.2 447.9,452.2C448.2,452.2 448.6,452.2 449.0,452.2C449.4,452.2 449.8,452.4 450.2,452.6C450.6,452.8 451.0,454.0 451.4,454.0C451.8,454.0 452.2,451.9 452.5,451.3C452.9,450.7 453.3,450.5 453.7,449.9C454.2,449.2 454.7,447.7 455.1,447.4C455.6,447.1 456.1,446.8 456.6,446.8C457.2,446.8 457.8,451.5 458.4,451.5C459.0,451.5 459.5,448.8 460.1,448.8C460.7,448.8 461.3,453.8 461.9,453.8C462.5,453.8 463.0,448.1 463.6,448.1C464.0,448.1 464.4,450.4 464.8,450.4C465.2,450.4 465.6,450.4 466.0,450.4C466.4,450.4 466.8,448.5 467.1,448.5C467.5,448.5 467.9,448.6 468.3,448.7C468.9,448.9 469.4,452.2 470.0,452.2C470.4,452.2 470.8,450.4 471.2,450.4C471.6,450.4 472.0,450.4 472.4,450.4C472.8,450.4 473.2,450.6 473.5,450.9C473.9,451.1 474.3,452.8 474.7,452.8C475.1,452.8 475.5,452.8 475.9,452.8C476.3,452.7 476.7,451.0 477.1,451.0C477.5,451.0 477.9,452.1 478.2,452.2C478.6,452.2 479.0,452.2 479.4,452.2C479.8,452.2 480.2,451.0 480.5,451.0C480.9,451.0 481.3,451.3 481.7,451.6C482.1,451.9 482.5,453.3 482.9,453.3C483.3,453.4 483.7,453.4 484.1,453.4C484.6,453.4 485.1,455.5 485.6,455.9C486.0,456.4 486.5,456.8 487.0,456.8C487.4,456.8 487.8,456.0 488.1,455.3C488.5,454.6 488.9,452.4 489.3,451.6C489.7,450.8 490.1,449.8 490.5,449.8C490.9,449.8 491.3,449.8 491.7,449.9C492.1,450.0 492.5,451.6 492.9,452.1C493.2,452.7 493.6,453.4 494.0,453.4C494.4,453.4 494.8,451.7 495.1,451.7C495.5,451.6 495.9,451.6 496.3,451.6C496.7,451.6 497.1,453.5 497.5,453.5C497.9,453.5 498.3,453.4 498.7,453.4C499.1,453.4 499.5,453.4 499.9,453.4C500.2,453.4 500.6,451.6 501.0,451.6C501.6,451.6 502.2,451.9 502.9,451.9C503.5,451.9 504.1,450.2 504.7,450.2C505.4,450.2 506.1,451.2 506.8,451.9C507.4,452.6 508.1,455.1 508.8,455.1C509.5,455.1 510.2,453.5 510.9,453.1C511.5,452.8 512.2,452.3 512.9,452.3C513.4,452.3 513.9,452.7 514.3,453.0C514.8,453.4 515.3,455.8 515.8,455.8C516.4,455.8 516.9,449.7 517.5,449.7C518.1,449.7 518.7,452.4 519.3,452.4C519.9,452.4 520.4,449.1 521.0,449.1C521.6,449.1 522.2,450.1 522.8,450.9C523.3,451.7 523.9,455.0 524.5,455.0C525.1,455.0 525.7,454.9 526.2,454.9C526.8,454.9 527.4,456.0 528.0,456.0C528.6,456.0 529.2,451.6 529.8,451.6C530.2,451.6 530.6,452.2 531.0,452.8C531.3,453.4 531.7,455.8 532.1,455.8C532.6,455.8 533.1,454.7 533.5,453.7C534.0,452.8 534.5,449.8 535.0,449.8C535.4,449.8 535.8,452.9 536.2,453.8C536.6,454.7 537.0,455.8 537.4,455.8C537.8,455.8 538.2,455.0 538.5,454.3C538.9,453.7 539.3,451.0 539.7,451.0C540.2,451.0 540.7,453.6 541.2,454.2C541.6,454.8 542.1,455.4 542.6,455.4C543.1,455.4 543.6,454.7 544.1,454.1C544.6,453.6 545.1,451.8 545.6,451.8C546.1,451.8 546.6,454.4 547.0,454.6C547.5,454.8 548.0,454.8 548.5,455.0C549.0,455.2 549.5,456.4 550.0,456.7C550.4,456.9 550.9,457.2 551.4,457.2C551.8,457.2 552.2,453.9 552.5,453.1C552.9,452.2 553.3,451.2 553.7,451.2C554.2,451.2 554.7,451.7 555.2,452.2C555.6,452.6 556.1,454.7 556.6,455.0C557.1,455.3 557.6,455.2 558.1,455.5C558.6,455.7 559.1,457.2 559.6,457.2C560.0,457.2 560.4,454.8 560.8,454.1C561.1,453.4 561.5,452.6 561.9,452.6C562.3,452.6 562.7,454.9 563.1,455.1C563.5,455.4 563.9,455.3 564.3,455.5C564.7,455.7 565.1,457.0 565.5,457.1C565.8,457.2 566.2,457.2 566.6,457.2C567.2,457.2 567.8,456.0 568.4,455.0C568.9,454.0 569.5,450.8 570.1,450.8C570.5,450.8 570.9,452.7 571.3,453.1C571.7,453.5 572.1,453.6 572.5,454.0C572.9,454.4 573.3,455.5 573.6,455.8C574.0,456.2 574.4,456.6 574.8,456.6C575.4,456.6 575.9,453.3 576.5,452.8C577.1,452.2 577.7,451.7 578.3,451.7C578.9,451.7 579.5,453.5 580.1,453.5C580.7,453.5 581.3,452.8 581.9,452.8C582.5,452.8 583.2,454.6 583.8,454.6C584.2,454.6 584.5,454.3 584.9,453.9C585.3,453.6 585.6,451.7 586.0,451.7C586.7,451.7 587.4,452.1 588.1,452.4C588.8,452.7 589.6,453.5 590.3,453.5C590.7,453.5 591.0,452.8 591.4,452.8C591.8,452.8 592.1,453.7 592.5,454.2C592.9,454.7 593.2,456.0 593.6,456.0C594.0,456.0 594.3,455.7 594.7,455.7C595.4,455.7 596.2,457.2 596.9,457.2C597.5,457.2 598.1,454.4 598.7,453.5C599.2,452.7 599.7,451.7 600.2,451.7C600.8,451.7 601.4,453.8 602.0,454.6C602.6,455.4 603.2,456.8 603.8,456.8C604.3,456.8 604.8,454.6 605.3,454.6C605.9,454.6 606.5,456.8 607.1,456.8C607.8,456.8 608.6,451.0 609.3,451.0C609.7,451.0 610.0,452.2 610.4,452.2C610.8,452.2 611.1,452.0 611.5,452.0C612.1,452.0 612.7,455.0 613.3,455.0C613.7,455.0 614.2,454.6 614.6,454.6C615.0,454.6 615.5,455.0 615.9,455.3C616.3,455.6 616.6,456.5 617.0,456.5C617.4,456.5 617.7,456.4 618.1,456.4C618.7,456.3 619.3,453.6 619.9,452.8C620.3,452.3 620.7,451.7 621.0,451.7C621.4,451.7 621.8,452.1 622.2,452.4C622.9,453.0 623.7,454.6 624.4,455.7C624.8,456.3 625.1,457.3 625.5,457.4C625.9,457.4 626.2,457.5 626.6,457.5C627.3,457.5 628.1,453.9 628.8,453.5C629.5,453.1 630.2,452.8 630.9,452.8C631.3,452.8 631.6,454.4 632.0,454.4C632.4,454.5 632.7,454.5 633.1,454.6C633.8,454.8 634.6,456.8 635.3,456.8C635.7,456.8 636.0,456.7 636.4,456.5C636.8,456.3 637.1,453.9 637.5,453.9C637.9,453.9 638.2,453.9 638.6,453.9C639.0,453.9 639.3,452.8 639.7,452.8C640.4,452.8 641.2,454.6 641.9,454.6C642.3,454.6 642.6,454.6 643.0,454.6C643.4,454.6 643.7,452.4 644.1,452.4C644.8,452.4 645.6,452.9 646.3,453.5C646.7,453.8 647.0,455.6 647.4,455.8C647.8,456.1 648.1,456.3 648.5,456.3C648.9,456.3 649.2,456.2 649.6,456.0C650.0,455.8 650.3,453.5 650.7,453.5C651.4,453.5 652.1,454.6 652.8,454.6C653.2,454.6 653.5,454.5 653.9,454.5C654.3,454.5 654.6,455.5 655.0,455.7C655.4,455.9 655.7,456.1 656.1,456.1C656.5,456.1 656.8,454.2 657.2,454.2C657.9,454.2 658.7,455.3 659.4,455.7C660.1,456.1 660.8,456.4 661.5,456.8" stroke="#000" stroke-width="2.7"/>
</g>
<text transform='translate(53.50,26.98) scale(1.0268,1.0700)' font-family='"Liberation Sans"' font-weight='bold' font-size='17' fill='#000'>Sr :Strontium Silicate, PDF#96-152-5970</text>
<text transform='translate(397.02,26.98) scale(1.0341,1.0700)' font-family='"Liberation Sans"' font-weight='bold' font-size='17' fill='#000'>R:Rankinite, PDF# 96-901-2095</text>
<text transform='translate(57.58,311.98) scale(1.0012,1.0000)' font-family='"Liberation Sans"' font-weight='bold' font-size='17.55' fill='#000'>W: Wollastonite, PDF# 96-900-5779</text>
<text transform='translate(392.55,311.98) scale(1.0011,1.0000)' font-family='"Liberation Sans"' font-weight='bold' font-size='17.55' fill='#000'>X: Xonotlite, PDF# 96-900-8438</text>
<text transform='translate(57.48,338.28) scale(0.9989,1.0000)' font-family='"Liberation Sans"' font-weight='bold' font-size='17.55' fill='#000'>C: Cobeite, PDF# 96-901-4885</text>
<text transform='translate(596.58,120.13) scale(1.0199,1.1079)' font-family='"Liberation Sans"' font-weight='bold' font-size='21.5' fill='#0505e6'>W3Sr</text>
<text transform='translate(596.28,206.97) scale(1.0016,1.0774)' font-family='"Liberation Sans"' font-weight='bold' font-size='21.5' fill='#4cc8bc'>W2Sr</text>
<text transform='translate(596.98,263.28) scale(1.0126,1.0380)' font-family='"Liberation Sans"' font-weight='bold' font-size='21.5' fill='#ec0006'>W1Sr</text>
<text transform='translate(602.28,437.78) scale(1.0049,1.0642)' font-family='"Liberation Sans"' font-weight='bold' font-size='21.5' fill='#000'>W0</text>
<text transform='translate(161.96,127.14) scale(1,1.05)' font-family='"Liberation Sans"' font-weight='bold' font-size='17' fill='#000'>Sr</text>
<text transform='translate(187.97,132.89) scale(1,1.05)' font-family='"Liberation Sans"' font-weight='bold' font-size='17' fill='#000'>R</text>
<text transform='translate(203.52,126.44) scale(1,1.05)' font-family='"Liberation Sans"' font-weight='bold' font-size='17' fill='#000'>R</text>
<text transform='translate(216.48,125.44) scale(1,1.05)' font-family='"Liberation Sans"' font-weight='bold' font-size='17' fill='#000'>W</text>
<text transform='translate(232.41,120.39) scale(1,1.05)' font-family='"Liberation Sans"' font-weight='bold' font-size='17' fill='#000'>Sr</text>
<text transform='translate(250.82,116.49) scale(1,1.05)' font-family='"Liberation Sans"' font-weight='bold' font-size='17' fill='#000'>R</text>
<text transform='translate(264.97,117.54) scale(1,1.05)' font-family='"Liberation Sans"' font-weight='bold' font-size='17' fill='#000'>R</text>
<text transform='translate(278.77,114.14) scale(1,1.05)' font-family='"Liberation Sans"' font-weight='bold' font-size='17' fill='#000'>R</text>
<text transform='translate(249.03,100.89) scale(1,1.05)' font-family='"Liberation Sans"' font-weight='bold' font-size='17' fill='#000'>W</text>
<text transform='translate(279.08,100.89) scale(1,1.05)' font-family='"Liberation Sans"' font-weight='bold' font-size='17' fill='#000'>W</text>
<text transform='translate(288.81,80.59) scale(1,1.05)' font-family='"Liberation Sans"' font-weight='bold' font-size='17' fill='#000'>Sr</text>
<text transform='translate(307.97,104.09) scale(1,1.05)' font-family='"Liberation Sans"' font-weight='bold' font-size='17' fill='#000'>R</text>
<text transform='translate(318.87,120.39) scale(1,1.05)' font-family='"Liberation Sans"' font-weight='bold' font-size='17' fill='#000'>R</text>
<text transform='translate(335.61,126.74) scale(1,1.05)' font-family='"Liberation Sans"' font-weight='bold' font-size='17' fill='#000'>Sr</text>
<text transform='translate(356.87,128.09) scale(1,1.05)' font-family='"Liberation Sans"' font-weight='bold' font-size='17' fill='#000'>R</text>
<text transform='translate(378.62,116.29) scale(1,1.05)' font-family='"Liberation Sans"' font-weight='bold' font-size='17' fill='#000'>R</text>
<text transform='translate(391.02,127.94) scale(1,1.05)' font-family='"Liberation Sans"' font-weight='bold' font-size='17' fill='#000'>R</text>
<text transform='translate(401.71,127.79) scale(1,1.05)' font-family='"Liberation Sans"' font-weight='bold' font-size='17' fill='#000'>Sr</text>
<text transform='translate(418.81,109.39) scale(1,1.05)' font-family='"Liberation Sans"' font-weight='bold' font-size='17' fill='#000'>Sr</text>
<text transform='translate(438.47,125.89) scale(1,1.05)' font-family='"Liberation Sans"' font-weight='bold' font-size='17' fill='#000'>R</text>
<text transform='translate(456.72,120.79) scale(1,1.05)' font-family='"Liberation Sans"' font-weight='bold' font-size='17' fill='#000'>R</text>
<text transform='translate(497.27,129.29) scale(1,1.05)' font-family='"Liberation Sans"' font-weight='bold' font-size='17' fill='#000'>R</text>
<text transform='translate(520.22,132.14) scale(1,1.05)' font-family='"Liberation Sans"' font-weight='bold' font-size='17' fill='#000'>R</text>
<text transform='translate(109.13,434.99) scale(1,1.05)' font-family='"Liberation Sans"' font-weight='bold' font-size='17' fill='#000'>X</text>
<text transform='translate(151.15,429.59) scale(1,1.05)' font-family='"Liberation Sans"' font-weight='bold' font-size='17' fill='#000'>C</text>
<text transform='translate(188.00,420.89) scale(1,1.05)' font-family='"Liberation Sans"' font-weight='bold' font-size='17' fill='#000'>C</text>
<text transform='translate(188.13,438.04) scale(1,1.05)' font-family='"Liberation Sans"' font-weight='bold' font-size='17' fill='#000'>X</text>
<text transform='translate(211.48,428.64) scale(1,1.05)' font-family='"Liberation Sans"' font-weight='bold' font-size='17' fill='#000'>W</text>
<text transform='translate(227.75,409.04) scale(1,1.05)' font-family='"Liberation Sans"' font-weight='bold' font-size='17' fill='#000'>C</text>
<text transform='translate(226.83,426.99) scale(1,1.05)' font-family='"Liberation Sans"' font-weight='bold' font-size='17' fill='#000'>X</text>
<text transform='translate(239.08,430.64) scale(1,1.05)' font-family='"Liberation Sans"' font-weight='bold' font-size='17' fill='#000'>X</text>
<text transform='translate(247.88,421.74) scale(1,1.05)' font-family='"Liberation Sans"' font-weight='bold' font-size='17' fill='#000'>W</text>
<text transform='translate(271.93,435.34) scale(1,1.05)' font-family='"Liberation Sans"' font-weight='bold' font-size='17' fill='#000'>X</text>
<text transform='translate(280.48,415.44) scale(1,1.05)' font-family='"Liberation Sans"' font-weight='bold' font-size='17' fill='#000'>W</text>
<text transform='translate(300.58,433.54) scale(1,1.05)' font-family='"Liberation Sans"' font-weight='bold' font-size='17' fill='#000'>X</text>
<text transform='translate(309.75,427.74) scale(1,1.05)' font-family='"Liberation Sans"' font-weight='bold' font-size='17' fill='#000'>C</text>
<text transform='translate(320.95,424.14) scale(1,1.05)' font-family='"Liberation Sans"' font-weight='bold' font-size='17' fill='#000'>C</text>
<text transform='translate(359.70,438.74) scale(1,1.05)' font-family='"Liberation Sans"' font-weight='bold' font-size='17' fill='#000'>C</text>
<text transform='translate(396.00,438.74) scale(1,1.05)' font-family='"Liberation Sans"' font-weight='bold' font-size='17' fill='#000'>C</text>
<text transform='translate(413.50,440.64) scale(1,1.05)' font-family='"Liberation Sans"' font-weight='bold' font-size='17' fill='#000'>C</text>
<text transform='translate(426.68,440.09) scale(1,1.05)' font-family='"Liberation Sans"' font-weight='bold' font-size='17' fill='#000'>X</text>
<text transform='translate(452.60,437.29) scale(1,1.05)' font-family='"Liberation Sans"' font-weight='bold' font-size='17' fill='#000'>C</text>
<text transform='translate(274.49,101.03) rotate(-90)' font-family='"Liberation Sans"' font-weight='bold' font-size='16' fill='#000'>(121)</text>
<text transform='translate(302.19,67.28) rotate(-90)' font-family='"Liberation Sans"' font-weight='bold' font-size='16' fill='#000'>(200)</text>
<text transform='translate(319.94,89.08) rotate(-90)' font-family='"Liberation Sans"' font-weight='bold' font-size='16' fill='#000'>(022)</text>
<text transform='translate(336.34,105.58) rotate(-90)' font-family='"Liberation Sans"' font-weight='bold' font-size='16' fill='#000'>(402)</text>
<text transform='translate(413.24,113.88) rotate(-90)' font-family='"Liberation Sans"' font-weight='bold' font-size='16' fill='#000'>(141)</text>
<text transform='translate(432.04,95.58) rotate(-90)' font-family='"Liberation Sans"' font-weight='bold' font-size='16' fill='#000'>(042)</text>
<text transform='translate(221.64,415.88) rotate(-90)' font-family='"Liberation Sans"' font-weight='bold' font-size='16' fill='#000'>(200)</text>
<text transform='translate(261.39,401.73) rotate(-90)' font-family='"Liberation Sans"' font-weight='bold' font-size='16' fill='#000'>(102)</text>
<text transform='translate(277.49,422.08) rotate(-90)' font-family='"Liberation Sans"' font-weight='bold' font-size='16' fill='#000'>(320)</text>
<text transform='translate(293.09,387.68) rotate(-90)' font-family='"Liberation Sans"' font-weight='bold' font-size='16' fill='#000'>(120)</text>
<text transform='translate(308.54,423.28) rotate(-90)' font-family='"Liberation Sans"' font-weight='bold' font-size='16' fill='#000'>(321)</text>
<text transform='translate(321.24,401.88) rotate(-90)' font-family='"Liberation Sans"' font-weight='bold' font-size='16' fill='#000'>(024)</text>
<text transform='translate(338.29,410.93) rotate(-90)' font-family='"Liberation Sans"' font-weight='bold' font-size='16' fill='#000'>(220)</text>
<text transform='translate(405.84,424.68) rotate(-90)' font-family='"Liberation Sans"' font-weight='bold' font-size='16' fill='#000'>(042)</text>
<text x="80.92" y="500.80" font-family="Liberation Sans" font-size="26.5" fill="#000">10</text>
<text x="175.94" y="500.80" font-family="Liberation Sans" font-size="26.5" fill="#000">20</text>
<text x="270.78" y="500.80" font-family="Liberation Sans" font-size="26.5" fill="#000">30</text>
<text x="365.67" y="500.80" font-family="Liberation Sans" font-size="26.5" fill="#000">40</text>
<text x="460.12" y="500.80" font-family="Liberation Sans" font-size="26.5" fill="#000">50</text>
<text x="554.66" y="500.80" font-family="Liberation Sans" font-size="26.5" fill="#000">60</text>
<text x="649.33" y="500.80" font-family="Liberation Sans" font-size="26.5" fill="#000">70</text>
<text transform='translate(256.06,538.90) scale(1.1316,1.0075)' font-family='"Liberation Sans"' font-weight='bold' font-size='29' fill='#000'>2</text>
<text transform='translate(273.94,539.33) scale(1.2213,0.9581)' font-family='"Liberation Serif"' font-weight='normal' font-size='29' fill='#000'>θ</text>
<text transform='translate(299.02,538.96) scale(1.0954,1.0641)' font-family='"Liberation Sans"' font-weight='bold' font-size='29' fill='#000'>(Degree)</text>
<text transform="translate(27.63,277.40) rotate(-90)" font-family="Liberation Sans" font-weight="bold" font-size="34.4" fill="#000">Intensity</text>
</svg></body></html>
